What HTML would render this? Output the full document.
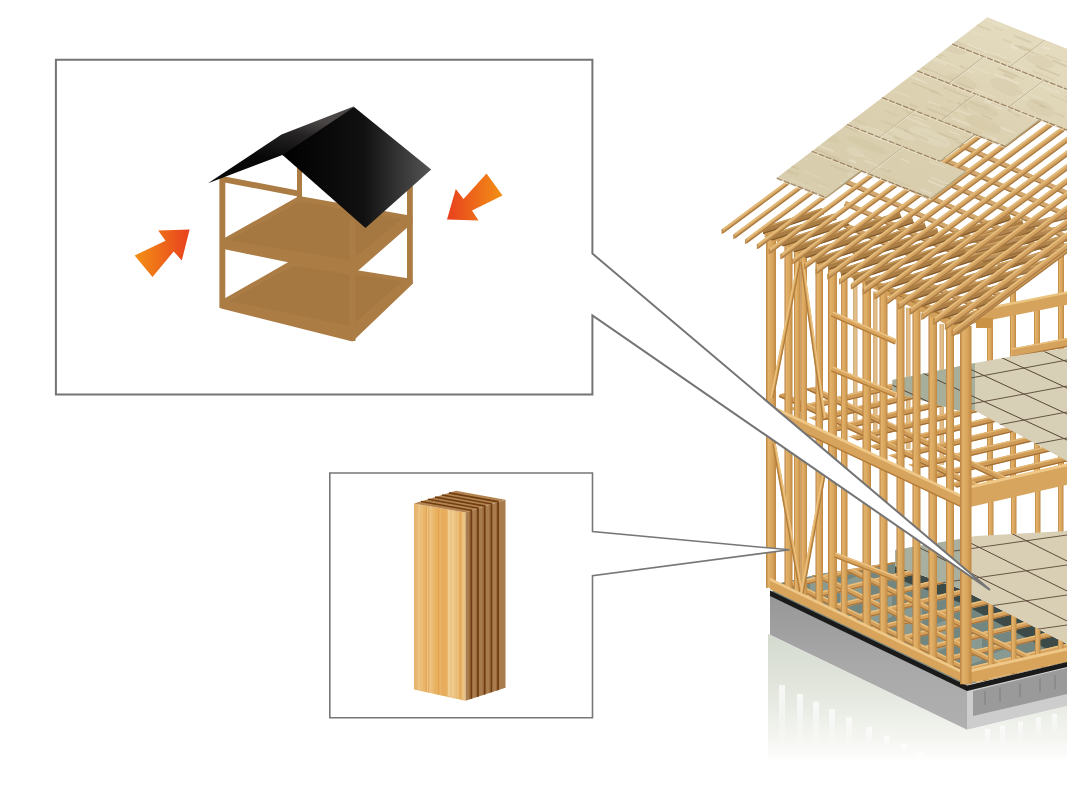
<!DOCTYPE html>
<html><head><meta charset="utf-8">
<style>
html,body{margin:0;padding:0;background:#fff;width:1067px;height:800px;overflow:hidden;font-family:"Liberation Sans",sans-serif;}
svg{position:absolute;left:0;top:0;display:block}
</style></head><body>
<svg width="1067" height="800" viewBox="0 0 1067 800">
<defs>
  <linearGradient id="roofR" x1="282" y1="0" x2="431" y2="0" gradientUnits="userSpaceOnUse">
    <stop offset="0" stop-color="#000"/><stop offset="0.55" stop-color="#111"/><stop offset="1" stop-color="#555"/>
  </linearGradient>
  <linearGradient id="roofL" x1="300" y1="118" x2="292" y2="162" gradientUnits="userSpaceOnUse">
    <stop offset="0" stop-color="#4a4646"/><stop offset="0.35" stop-color="#262424"/><stop offset="1" stop-color="#080808"/>
  </linearGradient>
  <linearGradient id="arrL" x1="135" y1="0" x2="190" y2="0" gradientUnits="userSpaceOnUse">
    <stop offset="0" stop-color="#f39015"/><stop offset="1" stop-color="#e8401e"/>
  </linearGradient>
  <linearGradient id="arrR" x1="502" y1="0" x2="447" y2="0" gradientUnits="userSpaceOnUse">
    <stop offset="0" stop-color="#f39015"/><stop offset="1" stop-color="#e8401e"/>
  </linearGradient>
</defs>

<!-- ===== BIG HOUSE (right) ===== -->
<g id="house">
<defs>
<linearGradient id="reflG" x1="0" y1="634" x2="0" y2="763" gradientUnits="userSpaceOnUse">
<stop offset="0" stop-color="#d5dacf"/><stop offset="0.45" stop-color="#e3e7de"/><stop offset="0.8" stop-color="#f4f5f1"/><stop offset="1" stop-color="#ffffff"/></linearGradient>
<linearGradient id="studG" x1="0" y1="0" x2="1" y2="0">
<stop offset="0" stop-color="#b98040"/><stop offset="0.25" stop-color="#e2b26a"/><stop offset="0.65" stop-color="#d8a45c"/><stop offset="1" stop-color="#be8842"/></linearGradient>
<linearGradient id="studF" x1="0" y1="0" x2="1" y2="0">
<stop offset="0" stop-color="#c99a5c"/><stop offset="0.5" stop-color="#e0b878"/><stop offset="1" stop-color="#cc9d5e"/></linearGradient>
<linearGradient id="fndL" x1="0" y1="0" x2="0" y2="1">
<stop offset="0" stop-color="#979797"/><stop offset="0.5" stop-color="#a8a8a8"/><stop offset="1" stop-color="#b0b0b0"/></linearGradient>
<linearGradient id="panelG" x1="987" y1="17" x2="900" y2="200" gradientUnits="userSpaceOnUse">
<stop offset="0" stop-color="#e4dbbf"/><stop offset="0.5" stop-color="#dcd1b1"/><stop offset="1" stop-color="#d8cdac"/></linearGradient>
</defs>
<linearGradient id="stripeG" x1="0" y1="0" x2="0" y2="1"><stop offset="0" stop-color="#ffffff" stop-opacity="0.75"/><stop offset="1" stop-color="#ffffff" stop-opacity="0"/></linearGradient>
<polygon points="768.0,634.0 967.0,730.0 1067.0,706.0 1067.0,765.0 768.0,765.0" fill="url(#reflG)" />
<rect x="779.0" y="685.1" width="6" height="62.9" fill="url(#stripeG)"/>
<rect x="797.0" y="693.8" width="6" height="54.2" fill="url(#stripeG)"/>
<rect x="813.0" y="701.5" width="6" height="46.5" fill="url(#stripeG)"/>
<rect x="829.0" y="709.2" width="6" height="38.8" fill="url(#stripeG)"/>
<rect x="846.0" y="717.4" width="6" height="30.6" fill="url(#stripeG)"/>
<rect x="866.0" y="727.1" width="6" height="20.9" fill="url(#stripeG)"/>
<rect x="884.0" y="735.7" width="6" height="12.3" fill="url(#stripeG)"/>
<rect x="901.0" y="743.9" width="6" height="10.0" fill="url(#stripeG)"/>
<rect x="918.0" y="752.1" width="6" height="10.0" fill="url(#stripeG)"/>
<rect x="934.0" y="759.8" width="6" height="10.0" fill="url(#stripeG)"/>
<rect x="951.0" y="768.0" width="6" height="10.0" fill="url(#stripeG)"/>
<rect x="985.0" y="729.0" width="5" height="22" fill="url(#stripeG)"/>
<rect x="1000.0" y="725.6" width="5" height="22" fill="url(#stripeG)"/>
<rect x="1018.0" y="721.6" width="5" height="22" fill="url(#stripeG)"/>
<rect x="1036.0" y="717.5" width="5" height="22" fill="url(#stripeG)"/>
<rect x="1052.0" y="713.9" width="5" height="22" fill="url(#stripeG)"/>
<clipPath id="crawlClip"><polygon points="772.0,592.0 966.0,685.0 1067.0,662.0 1067.0,644.0 961.0,589.0 895.0,566.0 895.0,562.0 820.0,574.0 776.0,584.0"/></clipPath>
<polygon points="772.0,592.0 966.0,685.0 1067.0,662.0 1067.0,644.0 961.0,589.0 895.0,566.0 895.0,562.0 820.0,574.0 776.0,584.0" fill="#73867f" />
<g clip-path="url(#crawlClip)">
<polygon points="895.0,566.0 961.0,589.0 1067.0,644.0 1067.0,660.0 961.0,603.0 895.0,578.0" fill="#33413e" opacity="0.85"/>
<polygon points="780.0,553.6 802.0,545.6 802.0,573.6 780.0,581.6" fill="#93a29a" opacity="0.7"/>
<polygon points="810.0,568.1 832.0,560.1 832.0,588.1 810.0,596.1" fill="#93a29a" opacity="0.7"/>
<polygon points="840.0,582.5 862.0,574.5 862.0,602.5 840.0,610.5" fill="#93a29a" opacity="0.7"/>
<polygon points="870.0,597.0 892.0,589.0 892.0,617.0 870.0,625.0" fill="#93a29a" opacity="0.7"/>
<polygon points="900.0,611.5 922.0,603.5 922.0,631.5 900.0,639.5" fill="#93a29a" opacity="0.7"/>
<polygon points="930.0,625.9 952.0,617.9 952.0,645.9 930.0,653.9" fill="#93a29a" opacity="0.7"/>
<polygon points="960.0,640.4 982.0,632.4 982.0,660.4 960.0,668.4" fill="#93a29a" opacity="0.7"/>
<polygon points="990.0,654.8 1012.0,646.8 1012.0,674.8 990.0,682.8" fill="#93a29a" opacity="0.7"/>
<polygon points="1020.0,669.3 1042.0,661.3 1042.0,689.3 1020.0,697.3" fill="#93a29a" opacity="0.7"/>
<polygon points="1050.0,683.8 1072.0,675.8 1072.0,703.8 1050.0,711.8" fill="#93a29a" opacity="0.7"/>
<line x1="778.0" y1="588.7" x2="1078.0" y2="516.7" stroke="#d6a35e" stroke-width="5.4" />
<line x1="777.5" y1="586.7" x2="1077.5" y2="514.7" stroke="#ebc07e" stroke-width="1.4" />
<line x1="778.5" y1="590.6" x2="1078.5" y2="518.6" stroke="#a8733a" stroke-width="1.2" />
<line x1="800.0" y1="599.3" x2="1100.0" y2="527.3" stroke="#d6a35e" stroke-width="5.4" />
<line x1="799.5" y1="597.3" x2="1099.5" y2="525.3" stroke="#ebc07e" stroke-width="1.4" />
<line x1="800.5" y1="601.2" x2="1100.5" y2="529.2" stroke="#a8733a" stroke-width="1.2" />
<line x1="822.0" y1="609.9" x2="1122.0" y2="537.9" stroke="#d6a35e" stroke-width="5.4" />
<line x1="821.5" y1="607.9" x2="1121.5" y2="535.9" stroke="#ebc07e" stroke-width="1.4" />
<line x1="822.5" y1="611.8" x2="1122.5" y2="539.8" stroke="#a8733a" stroke-width="1.2" />
<line x1="844.0" y1="620.5" x2="1144.0" y2="548.5" stroke="#d6a35e" stroke-width="5.4" />
<line x1="843.5" y1="618.5" x2="1143.5" y2="546.5" stroke="#ebc07e" stroke-width="1.4" />
<line x1="844.5" y1="622.4" x2="1144.5" y2="550.4" stroke="#a8733a" stroke-width="1.2" />
<line x1="866.0" y1="631.1" x2="1166.0" y2="559.1" stroke="#d6a35e" stroke-width="5.4" />
<line x1="865.5" y1="629.1" x2="1165.5" y2="557.1" stroke="#ebc07e" stroke-width="1.4" />
<line x1="866.5" y1="633.0" x2="1166.5" y2="561.0" stroke="#a8733a" stroke-width="1.2" />
<line x1="888.0" y1="641.7" x2="1188.0" y2="569.7" stroke="#d6a35e" stroke-width="5.4" />
<line x1="887.5" y1="639.7" x2="1187.5" y2="567.7" stroke="#ebc07e" stroke-width="1.4" />
<line x1="888.5" y1="643.6" x2="1188.5" y2="571.6" stroke="#a8733a" stroke-width="1.2" />
<line x1="910.0" y1="652.3" x2="1210.0" y2="580.3" stroke="#d6a35e" stroke-width="5.4" />
<line x1="909.5" y1="650.3" x2="1209.5" y2="578.3" stroke="#ebc07e" stroke-width="1.4" />
<line x1="910.5" y1="654.2" x2="1210.5" y2="582.2" stroke="#a8733a" stroke-width="1.2" />
<line x1="932.0" y1="662.9" x2="1232.0" y2="590.9" stroke="#d6a35e" stroke-width="5.4" />
<line x1="931.5" y1="660.9" x2="1231.5" y2="588.9" stroke="#ebc07e" stroke-width="1.4" />
<line x1="932.5" y1="664.8" x2="1232.5" y2="592.8" stroke="#a8733a" stroke-width="1.2" />
<line x1="954.0" y1="673.5" x2="1254.0" y2="601.5" stroke="#d6a35e" stroke-width="5.4" />
<line x1="953.5" y1="671.5" x2="1253.5" y2="599.5" stroke="#ebc07e" stroke-width="1.4" />
<line x1="954.5" y1="675.4" x2="1254.5" y2="603.4" stroke="#a8733a" stroke-width="1.2" />
<line x1="976.0" y1="684.1" x2="1276.0" y2="612.1" stroke="#d6a35e" stroke-width="5.4" />
<line x1="975.5" y1="682.1" x2="1275.5" y2="610.1" stroke="#ebc07e" stroke-width="1.4" />
<line x1="976.5" y1="686.0" x2="1276.5" y2="614.0" stroke="#a8733a" stroke-width="1.2" />
<line x1="998.0" y1="694.7" x2="1298.0" y2="622.7" stroke="#d6a35e" stroke-width="5.4" />
<line x1="997.5" y1="692.8" x2="1297.5" y2="620.8" stroke="#ebc07e" stroke-width="1.4" />
<line x1="998.5" y1="696.6" x2="1298.5" y2="624.6" stroke="#a8733a" stroke-width="1.2" />
<line x1="1020.0" y1="705.3" x2="1320.0" y2="633.3" stroke="#d6a35e" stroke-width="5.4" />
<line x1="1019.5" y1="703.4" x2="1319.5" y2="631.4" stroke="#ebc07e" stroke-width="1.4" />
<line x1="1020.5" y1="707.2" x2="1320.5" y2="635.2" stroke="#a8733a" stroke-width="1.2" />
<line x1="1042.0" y1="715.9" x2="1342.0" y2="643.9" stroke="#d6a35e" stroke-width="5.4" />
<line x1="1041.5" y1="714.0" x2="1341.5" y2="642.0" stroke="#ebc07e" stroke-width="1.4" />
<line x1="1042.5" y1="717.8" x2="1342.5" y2="645.8" stroke="#a8733a" stroke-width="1.2" />
<line x1="780.0" y1="536.0" x2="1067.0" y2="676.6" stroke="#d3a05b" stroke-width="5.4" />
<line x1="780.9" y1="534.2" x2="1067.9" y2="674.8" stroke="#e9bd7a" stroke-width="1.4" />
<line x1="779.1" y1="537.8" x2="1066.1" y2="678.4" stroke="#a8733a" stroke-width="1.2" />
<line x1="780.0" y1="557.0" x2="1067.0" y2="697.6" stroke="#d3a05b" stroke-width="5.4" />
<line x1="780.9" y1="555.2" x2="1067.9" y2="695.8" stroke="#e9bd7a" stroke-width="1.4" />
<line x1="779.1" y1="558.8" x2="1066.1" y2="699.4" stroke="#a8733a" stroke-width="1.2" />
<line x1="780.0" y1="578.0" x2="1067.0" y2="718.6" stroke="#d3a05b" stroke-width="5.4" />
<line x1="780.9" y1="576.2" x2="1067.9" y2="716.8" stroke="#e9bd7a" stroke-width="1.4" />
<line x1="779.1" y1="579.8" x2="1066.1" y2="720.4" stroke="#a8733a" stroke-width="1.2" />
<line x1="780.0" y1="599.0" x2="1067.0" y2="739.6" stroke="#d3a05b" stroke-width="5.4" />
<line x1="780.9" y1="597.2" x2="1067.9" y2="737.8" stroke="#e9bd7a" stroke-width="1.4" />
<line x1="779.1" y1="600.8" x2="1066.1" y2="741.4" stroke="#a8733a" stroke-width="1.2" />
<line x1="780.0" y1="620.0" x2="1067.0" y2="760.6" stroke="#d3a05b" stroke-width="5.4" />
<line x1="780.9" y1="618.2" x2="1067.9" y2="758.8" stroke="#e9bd7a" stroke-width="1.4" />
<line x1="779.1" y1="621.8" x2="1066.1" y2="762.4" stroke="#a8733a" stroke-width="1.2" />
</g>
<rect x="988.0" y="498.9" width="5.5" height="171.4" fill="url(#studG)" />
<rect x="1011.0" y="493.6" width="5.5" height="171.5" fill="url(#studG)" />
<rect x="1035.0" y="488.1" width="5.5" height="171.6" fill="url(#studG)" />
<rect x="1058.0" y="482.8" width="5.5" height="171.7" fill="url(#studG)" />
<rect x="987.0" y="318.8" width="6" height="165.4" fill="url(#studG)" />
<rect x="1010.0" y="314.2" width="6" height="164.7" fill="url(#studG)" />
<rect x="1034.0" y="309.4" width="6" height="164.0" fill="url(#studG)" />
<rect x="1058.0" y="304.6" width="6" height="163.2" fill="url(#studG)" />
<rect x="1010.0" y="288.0" width="6" height="18.0" fill="url(#studG)" />
<rect x="1058.0" y="236.0" width="6" height="60.0" fill="url(#studG)" />
<rect x="853.0" y="281.6" width="4.5" height="142.6" fill="url(#studF)" opacity="0.85"/>
<rect x="873.0" y="291.4" width="4.5" height="142.2" fill="url(#studF)" opacity="0.85"/>
<rect x="906.0" y="307.6" width="4.5" height="141.5" fill="url(#studF)" opacity="0.85"/>
<rect x="939.5" y="324.0" width="4.5" height="140.8" fill="url(#studF)" opacity="0.85"/>
<clipPath id="deck1Clip"><polygon points="895.0,550.0 976.0,536.0 1067.0,531.0 1067.0,644.0 961.0,589.0 895.0,566.0"/></clipPath>
<polygon points="895.0,550.0 976.0,536.0 1067.0,531.0 1067.0,644.0 961.0,589.0 895.0,566.0" fill="#d9cfb5" />
<polygon points="895.0,550.0 961.0,539.0 961.0,589.0 895.0,566.0" fill="#a9b0a0" />
<g clip-path="url(#deck1Clip)">
<line x1="900.0" y1="418.0" x2="1067.0" y2="501.0" stroke="#5a4838" stroke-width="1.0" />
<line x1="900.0" y1="448.0" x2="1067.0" y2="531.0" stroke="#5a4838" stroke-width="1.0" />
<line x1="900.0" y1="478.0" x2="1067.0" y2="561.0" stroke="#5a4838" stroke-width="1.0" />
<line x1="900.0" y1="508.0" x2="1067.0" y2="591.0" stroke="#5a4838" stroke-width="1.0" />
<line x1="900.0" y1="538.0" x2="1067.0" y2="621.0" stroke="#5a4838" stroke-width="1.0" />
<line x1="900.0" y1="568.0" x2="1067.0" y2="651.0" stroke="#5a4838" stroke-width="1.0" />
<line x1="900.0" y1="598.0" x2="1067.0" y2="681.0" stroke="#5a4838" stroke-width="1.0" />
<line x1="900.0" y1="628.0" x2="1067.0" y2="711.0" stroke="#5a4838" stroke-width="1.0" />
<line x1="900.0" y1="658.0" x2="1067.0" y2="741.0" stroke="#5a4838" stroke-width="1.0" />
<line x1="940.0" y1="553.0" x2="1067.0" y2="535.0" stroke="#5a4838" stroke-width="0.9" />
<line x1="940.0" y1="583.0" x2="1067.0" y2="565.0" stroke="#5a4838" stroke-width="0.9" />
<line x1="940.0" y1="613.0" x2="1067.0" y2="595.0" stroke="#5a4838" stroke-width="0.9" />
<line x1="940.0" y1="643.0" x2="1067.0" y2="625.0" stroke="#5a4838" stroke-width="0.9" />
<line x1="940.0" y1="673.0" x2="1067.0" y2="655.0" stroke="#5a4838" stroke-width="0.9" />
<line x1="940.0" y1="703.0" x2="1067.0" y2="685.0" stroke="#5a4838" stroke-width="0.9" />
</g>
<clipPath id="j2Clip"><polygon points="776.0,395.0 892.0,370.0 1067.0,340.0 1067.0,470.0 966.0,492.0 776.0,402.0"/></clipPath>
<g clip-path="url(#j2Clip)">
<line x1="785.0" y1="412.2" x2="975.0" y2="367.2" stroke="#cf9c58" stroke-width="6" />
<line x1="784.5" y1="410.0" x2="974.5" y2="365.0" stroke="#e6ba78" stroke-width="1.4" />
<line x1="785.5" y1="414.5" x2="975.5" y2="369.5" stroke="#a06c34" stroke-width="1.2" />
<line x1="805.0" y1="421.6" x2="995.0" y2="376.6" stroke="#cf9c58" stroke-width="6" />
<line x1="804.5" y1="419.4" x2="994.5" y2="374.4" stroke="#e6ba78" stroke-width="1.4" />
<line x1="805.5" y1="423.9" x2="995.5" y2="378.9" stroke="#a06c34" stroke-width="1.2" />
<line x1="825.0" y1="431.1" x2="1015.0" y2="386.1" stroke="#cf9c58" stroke-width="6" />
<line x1="824.5" y1="428.8" x2="1014.5" y2="383.8" stroke="#e6ba78" stroke-width="1.4" />
<line x1="825.5" y1="433.3" x2="1015.5" y2="388.3" stroke="#a06c34" stroke-width="1.2" />
<line x1="845.0" y1="440.4" x2="1035.0" y2="395.4" stroke="#cf9c58" stroke-width="6" />
<line x1="844.5" y1="438.2" x2="1034.5" y2="393.2" stroke="#e6ba78" stroke-width="1.4" />
<line x1="845.5" y1="442.7" x2="1035.5" y2="397.7" stroke="#a06c34" stroke-width="1.2" />
<line x1="865.0" y1="449.8" x2="1055.0" y2="404.8" stroke="#cf9c58" stroke-width="6" />
<line x1="864.5" y1="447.6" x2="1054.5" y2="402.6" stroke="#e6ba78" stroke-width="1.4" />
<line x1="865.5" y1="452.1" x2="1055.5" y2="407.1" stroke="#a06c34" stroke-width="1.2" />
<line x1="885.0" y1="459.2" x2="1075.0" y2="414.2" stroke="#cf9c58" stroke-width="6" />
<line x1="884.5" y1="457.0" x2="1074.5" y2="412.0" stroke="#e6ba78" stroke-width="1.4" />
<line x1="885.5" y1="461.5" x2="1075.5" y2="416.5" stroke="#a06c34" stroke-width="1.2" />
<line x1="905.0" y1="468.6" x2="1095.0" y2="423.6" stroke="#cf9c58" stroke-width="6" />
<line x1="904.5" y1="466.4" x2="1094.5" y2="421.4" stroke="#e6ba78" stroke-width="1.4" />
<line x1="905.5" y1="470.9" x2="1095.5" y2="425.9" stroke="#a06c34" stroke-width="1.2" />
<line x1="925.0" y1="478.0" x2="1115.0" y2="433.0" stroke="#cf9c58" stroke-width="6" />
<line x1="924.5" y1="475.8" x2="1114.5" y2="430.8" stroke="#e6ba78" stroke-width="1.4" />
<line x1="925.5" y1="480.3" x2="1115.5" y2="435.3" stroke="#a06c34" stroke-width="1.2" />
<line x1="945.0" y1="487.4" x2="1135.0" y2="442.4" stroke="#cf9c58" stroke-width="6" />
<line x1="944.5" y1="485.2" x2="1134.5" y2="440.2" stroke="#e6ba78" stroke-width="1.4" />
<line x1="945.5" y1="489.7" x2="1135.5" y2="444.7" stroke="#a06c34" stroke-width="1.2" />
<line x1="965.0" y1="496.8" x2="1155.0" y2="451.8" stroke="#cf9c58" stroke-width="6" />
<line x1="964.5" y1="494.6" x2="1154.5" y2="449.6" stroke="#e6ba78" stroke-width="1.4" />
<line x1="965.5" y1="499.1" x2="1155.5" y2="454.1" stroke="#a06c34" stroke-width="1.2" />
<line x1="985.0" y1="506.2" x2="1175.0" y2="461.2" stroke="#cf9c58" stroke-width="6" />
<line x1="984.5" y1="504.0" x2="1174.5" y2="459.0" stroke="#e6ba78" stroke-width="1.4" />
<line x1="985.5" y1="508.5" x2="1175.5" y2="463.5" stroke="#a06c34" stroke-width="1.2" />
<line x1="1005.0" y1="515.6" x2="1195.0" y2="470.6" stroke="#cf9c58" stroke-width="6" />
<line x1="1004.5" y1="513.4" x2="1194.5" y2="468.4" stroke="#e6ba78" stroke-width="1.4" />
<line x1="1005.5" y1="517.9" x2="1195.5" y2="472.9" stroke="#a06c34" stroke-width="1.2" />
<line x1="780.0" y1="374.0" x2="1067.0" y2="508.9" stroke="#d09e5a" stroke-width="6" />
<line x1="781.0" y1="371.9" x2="1068.0" y2="506.8" stroke="#e8bc7a" stroke-width="1.4" />
<line x1="779.0" y1="376.1" x2="1066.0" y2="511.0" stroke="#a06c34" stroke-width="1.2" />
<line x1="780.0" y1="394.0" x2="1067.0" y2="528.9" stroke="#d09e5a" stroke-width="6" />
<line x1="781.0" y1="391.9" x2="1068.0" y2="526.8" stroke="#e8bc7a" stroke-width="1.4" />
<line x1="779.0" y1="396.1" x2="1066.0" y2="531.0" stroke="#a06c34" stroke-width="1.2" />
<line x1="780.0" y1="414.0" x2="1067.0" y2="548.9" stroke="#d09e5a" stroke-width="6" />
<line x1="781.0" y1="411.9" x2="1068.0" y2="546.8" stroke="#e8bc7a" stroke-width="1.4" />
<line x1="779.0" y1="416.1" x2="1066.0" y2="551.0" stroke="#a06c34" stroke-width="1.2" />
<line x1="780.0" y1="434.0" x2="1067.0" y2="568.9" stroke="#d09e5a" stroke-width="6" />
<line x1="781.0" y1="431.9" x2="1068.0" y2="566.8" stroke="#e8bc7a" stroke-width="1.4" />
<line x1="779.0" y1="436.1" x2="1066.0" y2="571.0" stroke="#a06c34" stroke-width="1.2" />
<line x1="780.0" y1="454.0" x2="1067.0" y2="588.9" stroke="#d09e5a" stroke-width="6" />
<line x1="781.0" y1="451.9" x2="1068.0" y2="586.8" stroke="#e8bc7a" stroke-width="1.4" />
<line x1="779.0" y1="456.1" x2="1066.0" y2="591.0" stroke="#a06c34" stroke-width="1.2" />
<line x1="780.0" y1="474.0" x2="1067.0" y2="608.9" stroke="#d09e5a" stroke-width="6" />
<line x1="781.0" y1="471.9" x2="1068.0" y2="606.8" stroke="#e8bc7a" stroke-width="1.4" />
<line x1="779.0" y1="476.1" x2="1066.0" y2="611.0" stroke="#a06c34" stroke-width="1.2" />
</g>
<line x1="1012.0" y1="353.0" x2="1070.0" y2="342.0" stroke="#d5a35e" stroke-width="9" />
<line x1="1011.3" y1="349.3" x2="1069.3" y2="338.3" stroke="#eac07e" stroke-width="1.4" />
<line x1="1012.7" y1="356.7" x2="1070.7" y2="345.7" stroke="#a8733a" stroke-width="1.2" />
<clipPath id="deck2Clip"><polygon points="892.5,380.0 975.0,363.0 1020.0,355.0 1067.0,348.0 1067.0,461.0 972.0,409.0 958.0,410.6 892.5,392.0"/></clipPath>
<polygon points="892.5,380.0 975.0,363.0 1020.0,355.0 1067.0,348.0 1067.0,461.0 972.0,409.0 958.0,410.6 892.5,392.0" fill="#d8cfb7" />
<polygon points="892.5,380.0 975.0,363.0 975.0,410.0 958.0,410.6 892.5,392.0" fill="#a7ae9a" />
<g clip-path="url(#deck2Clip)">
<line x1="890.0" y1="254.0" x2="1067.0" y2="336.0" stroke="#574636" stroke-width="1.0" />
<line x1="890.0" y1="280.0" x2="1067.0" y2="362.0" stroke="#574636" stroke-width="1.0" />
<line x1="890.0" y1="306.0" x2="1067.0" y2="388.0" stroke="#574636" stroke-width="1.0" />
<line x1="890.0" y1="332.0" x2="1067.0" y2="414.0" stroke="#574636" stroke-width="1.0" />
<line x1="890.0" y1="358.0" x2="1067.0" y2="440.0" stroke="#574636" stroke-width="1.0" />
<line x1="890.0" y1="384.0" x2="1067.0" y2="466.0" stroke="#574636" stroke-width="1.0" />
<line x1="890.0" y1="410.0" x2="1067.0" y2="492.0" stroke="#574636" stroke-width="1.0" />
<line x1="890.0" y1="436.0" x2="1067.0" y2="518.0" stroke="#574636" stroke-width="1.0" />
<line x1="890.0" y1="462.0" x2="1067.0" y2="544.0" stroke="#574636" stroke-width="1.0" />
<line x1="960.0" y1="380.0" x2="1067.0" y2="360.0" stroke="#574636" stroke-width="0.9" />
<line x1="960.0" y1="406.0" x2="1067.0" y2="386.0" stroke="#574636" stroke-width="0.9" />
<line x1="960.0" y1="432.0" x2="1067.0" y2="412.0" stroke="#574636" stroke-width="0.9" />
<line x1="960.0" y1="458.0" x2="1067.0" y2="438.0" stroke="#574636" stroke-width="0.9" />
<line x1="960.0" y1="484.0" x2="1067.0" y2="464.0" stroke="#574636" stroke-width="0.9" />
<line x1="960.0" y1="510.0" x2="1067.0" y2="490.0" stroke="#574636" stroke-width="0.9" />
</g>
<polygon points="770.0,594.5 967.0,689.5 967.0,729.7 770.0,634.8" fill="url(#fndL)" />
<polygon points="967.0,689.5 1067.0,664.0 1067.0,706.0 967.0,729.7" fill="#cdcdcd" />
<polygon points="973.0,691.0 1067.0,668.0 1067.0,694.0 973.0,716.0" fill="#9a9a9a" />
<line x1="985.0" y1="691.0" x2="985.0" y2="705.0" stroke="#777" stroke-width="0.8" />
<line x1="1000.0" y1="687.6" x2="1000.0" y2="701.6" stroke="#777" stroke-width="0.8" />
<line x1="1020.0" y1="683.1" x2="1020.0" y2="697.1" stroke="#777" stroke-width="0.8" />
<line x1="1040.0" y1="678.6" x2="1040.0" y2="692.6" stroke="#777" stroke-width="0.8" />
<line x1="1055.0" y1="675.2" x2="1055.0" y2="689.2" stroke="#777" stroke-width="0.8" />
<polygon points="770.0,590.5 967.0,685.5 967.0,691.0 770.0,596.0" fill="#1a1a1a" />
<polygon points="967.0,685.5 1067.0,662.0 1067.0,667.0 967.0,691.0" fill="#1a1a1a" />
<rect x="766.0" y="230.0" width="10" height="357.9" fill="url(#studG)" />
<rect x="784.5" y="239.1" width="8" height="357.7" fill="url(#studG)" />
<rect x="794.0" y="243.7" width="6.5" height="357.6" fill="url(#studG)" />
<rect x="800.5" y="246.9" width="6.5" height="357.6" fill="url(#studG)" />
<rect x="815.5" y="254.3" width="7.5" height="357.5" fill="url(#studG)" />
<rect x="828.0" y="260.4" width="9" height="357.4" fill="url(#studG)" />
<rect x="841.0" y="266.8" width="6.5" height="357.3" fill="url(#studG)" />
<rect x="862.5" y="277.3" width="8.5" height="357.1" fill="url(#studG)" />
<rect x="879.5" y="285.6" width="8" height="356.9" fill="url(#studG)" />
<rect x="896.5" y="294.0" width="8" height="356.8" fill="url(#studG)" />
<rect x="912.5" y="301.8" width="8" height="356.7" fill="url(#studG)" />
<rect x="928.5" y="309.6" width="8.5" height="356.6" fill="url(#studG)" />
<rect x="946.0" y="318.2" width="8" height="356.4" fill="url(#studG)" />
<line x1="802.0" y1="262.0" x2="824.0" y2="418.0" stroke="#d8a862" stroke-width="3.6" />
<line x1="803.1" y1="261.8" x2="825.1" y2="417.8" stroke="#ecc27e" stroke-width="1.4" />
<line x1="800.9" y1="262.2" x2="822.9" y2="418.2" stroke="#b07a38" stroke-width="1.2" />
<line x1="799.0" y1="262.0" x2="772.0" y2="398.0" stroke="#d8a862" stroke-width="3.6" />
<line x1="797.9" y1="261.8" x2="770.9" y2="397.8" stroke="#ecc27e" stroke-width="1.4" />
<line x1="800.1" y1="262.2" x2="773.1" y2="398.2" stroke="#b07a38" stroke-width="1.2" />
<line x1="774.0" y1="444.0" x2="801.0" y2="592.0" stroke="#d8a862" stroke-width="3.6" />
<line x1="775.1" y1="443.8" x2="802.1" y2="591.8" stroke="#ecc27e" stroke-width="1.4" />
<line x1="772.9" y1="444.2" x2="799.9" y2="592.2" stroke="#b07a38" stroke-width="1.2" />
<line x1="824.0" y1="474.0" x2="802.0" y2="594.0" stroke="#d8a862" stroke-width="3.6" />
<line x1="822.9" y1="473.8" x2="800.9" y2="593.8" stroke="#ecc27e" stroke-width="1.4" />
<line x1="825.1" y1="474.2" x2="803.1" y2="594.2" stroke="#b07a38" stroke-width="1.2" />
<line x1="832.0" y1="314.0" x2="896.0" y2="342.0" stroke="#d9a660" stroke-width="5.5" />
<line x1="832.8" y1="312.1" x2="896.8" y2="340.1" stroke="#efc686" stroke-width="1.4" />
<line x1="831.2" y1="315.9" x2="895.2" y2="343.9" stroke="#b37b37" stroke-width="1.2" />
<line x1="832.0" y1="369.0" x2="896.0" y2="395.0" stroke="#d9a660" stroke-width="5.5" />
<line x1="832.8" y1="367.1" x2="896.8" y2="393.1" stroke="#efc686" stroke-width="1.4" />
<line x1="831.2" y1="370.9" x2="895.2" y2="396.9" stroke="#b37b37" stroke-width="1.2" />
<line x1="835.0" y1="555.0" x2="897.0" y2="579.0" stroke="#d9a660" stroke-width="5.5" />
<line x1="835.7" y1="553.1" x2="897.7" y2="577.1" stroke="#efc686" stroke-width="1.4" />
<line x1="834.3" y1="556.9" x2="896.3" y2="580.9" stroke="#b37b37" stroke-width="1.2" />
<polygon points="770.0,579.8 966.0,674.3 966.0,683.8 770.0,589.3" fill="#d8a45c" />
<polygon points="770.0,577.8 966.0,672.3 966.0,675.3 770.0,580.8" fill="#efc888" />
<polygon points="772.0,408.1 966.0,499.3 966.0,509.3 772.0,418.1" fill="#d7a45d" />
<polygon points="772.0,405.6 966.0,496.8 966.0,499.8 772.0,408.6" fill="#efc888" />
<polygon points="772.0,417.1 966.0,508.3 966.0,509.8 772.0,418.6" fill="#b27a38" />
<polygon points="764.0,226.0 966.0,325.0 966.0,334.0 764.0,235.0" fill="#d3a05a" />
<polygon points="966.0,489.0 1067.0,465.8 1067.0,484.8 966.0,508.0" fill="#d8a55e" />
<polygon points="966.0,486.5 1067.0,463.3 1067.0,466.3 966.0,489.5" fill="#efc888" />
<polygon points="966.0,672.3 1067.0,649.5 1067.0,661.0 966.0,683.8" fill="#d8a45c" />
<polygon points="966.0,670.3 1067.0,647.5 1067.0,650.5 966.0,673.3" fill="#efc888" />
<polygon points="972.0,311.8 1067.0,292.8 1067.0,304.8 972.0,323.8" fill="#d5a35c" />
<polygon points="972.0,310.3 1067.0,291.3 1067.0,293.8 972.0,312.8" fill="#ecc482" />
<polygon points="976.0,318.0 993.0,318.0 993.0,328.0 976.0,328.0" fill="#c99244" />
<rect x="960.0" y="326.0" width="11.5" height="358.3" fill="url(#studG)" />
<clipPath id="roofClip"><polygon points="763,236 956,334 1067,246 1067,50 987.3,19 776.6,180 763,205"/></clipPath>
<g clip-path="url(#roofClip)">
<line x1="845.0" y1="291.2" x2="1070.0" y2="392.5" stroke="#c08c48" stroke-width="5.0" opacity="0.75"/>
<line x1="845.7" y1="289.6" x2="1070.7" y2="390.9" stroke="#d8a862" stroke-width="1.4" opacity="0.75"/>
<line x1="844.3" y1="292.9" x2="1069.3" y2="394.1" stroke="#9c6a30" stroke-width="1.2" opacity="0.75"/>
<line x1="845.0" y1="269.2" x2="1070.0" y2="370.5" stroke="#c08c48" stroke-width="5.0" opacity="0.75"/>
<line x1="845.7" y1="267.6" x2="1070.7" y2="368.9" stroke="#d8a862" stroke-width="1.4" opacity="0.75"/>
<line x1="844.3" y1="270.9" x2="1069.3" y2="372.1" stroke="#9c6a30" stroke-width="1.2" opacity="0.75"/>
<line x1="845.0" y1="247.2" x2="1070.0" y2="348.5" stroke="#c08c48" stroke-width="5.0" opacity="0.75"/>
<line x1="845.7" y1="245.6" x2="1070.7" y2="346.9" stroke="#d8a862" stroke-width="1.4" opacity="0.75"/>
<line x1="844.3" y1="248.9" x2="1069.3" y2="350.1" stroke="#9c6a30" stroke-width="1.2" opacity="0.75"/>
<line x1="845.0" y1="225.2" x2="1070.0" y2="326.5" stroke="#c08c48" stroke-width="5.0" opacity="0.75"/>
<line x1="845.7" y1="223.6" x2="1070.7" y2="324.9" stroke="#d8a862" stroke-width="1.4" opacity="0.75"/>
<line x1="844.3" y1="226.9" x2="1069.3" y2="328.1" stroke="#9c6a30" stroke-width="1.2" opacity="0.75"/>
<line x1="845.0" y1="203.2" x2="1070.0" y2="304.5" stroke="#c08c48" stroke-width="5.0" opacity="0.75"/>
<line x1="845.7" y1="201.6" x2="1070.7" y2="302.9" stroke="#d8a862" stroke-width="1.4" opacity="0.75"/>
<line x1="844.3" y1="204.9" x2="1069.3" y2="306.1" stroke="#9c6a30" stroke-width="1.2" opacity="0.75"/>
<line x1="845.0" y1="181.2" x2="1070.0" y2="282.5" stroke="#c08c48" stroke-width="5.0" opacity="0.75"/>
<line x1="845.7" y1="179.6" x2="1070.7" y2="280.9" stroke="#d8a862" stroke-width="1.4" opacity="0.75"/>
<line x1="844.3" y1="182.9" x2="1069.3" y2="284.1" stroke="#9c6a30" stroke-width="1.2" opacity="0.75"/>
<line x1="845.0" y1="159.2" x2="1070.0" y2="260.5" stroke="#c08c48" stroke-width="5.0" opacity="0.75"/>
<line x1="845.7" y1="157.6" x2="1070.7" y2="258.9" stroke="#d8a862" stroke-width="1.4" opacity="0.75"/>
<line x1="844.3" y1="160.9" x2="1069.3" y2="262.1" stroke="#9c6a30" stroke-width="1.2" opacity="0.75"/>
<line x1="845.0" y1="137.2" x2="1070.0" y2="238.5" stroke="#c08c48" stroke-width="5.0" opacity="0.75"/>
<line x1="845.7" y1="135.6" x2="1070.7" y2="236.9" stroke="#d8a862" stroke-width="1.4" opacity="0.75"/>
<line x1="844.3" y1="138.9" x2="1069.3" y2="240.1" stroke="#9c6a30" stroke-width="1.2" opacity="0.75"/>
<line x1="845.0" y1="115.2" x2="1070.0" y2="216.5" stroke="#c08c48" stroke-width="5.0" opacity="0.75"/>
<line x1="845.7" y1="113.6" x2="1070.7" y2="214.9" stroke="#d8a862" stroke-width="1.4" opacity="0.75"/>
<line x1="844.3" y1="116.9" x2="1069.3" y2="218.1" stroke="#9c6a30" stroke-width="1.2" opacity="0.75"/>
<line x1="845.0" y1="93.2" x2="1070.0" y2="194.5" stroke="#c08c48" stroke-width="5.0" opacity="0.75"/>
<line x1="845.7" y1="91.6" x2="1070.7" y2="192.9" stroke="#d8a862" stroke-width="1.4" opacity="0.75"/>
<line x1="844.3" y1="94.9" x2="1069.3" y2="196.1" stroke="#9c6a30" stroke-width="1.2" opacity="0.75"/>
<line x1="753.0" y1="233.9" x2="823.0" y2="211.1" stroke="#a97d44" stroke-width="6.5" />
<line x1="752.2" y1="231.5" x2="822.2" y2="208.7" stroke="#c99c5c" stroke-width="1.4" />
<line x1="753.8" y1="236.3" x2="823.8" y2="213.5" stroke="#80582c" stroke-width="1.2" />
<line x1="765.5" y1="239.4" x2="835.5" y2="216.6" stroke="#a97d44" stroke-width="6.5" />
<line x1="764.7" y1="237.0" x2="834.7" y2="214.2" stroke="#c99c5c" stroke-width="1.4" />
<line x1="766.3" y1="241.8" x2="836.3" y2="219.0" stroke="#80582c" stroke-width="1.2" />
<line x1="778.0" y1="244.9" x2="848.0" y2="222.1" stroke="#a97d44" stroke-width="6.5" />
<line x1="777.2" y1="242.5" x2="847.2" y2="219.7" stroke="#c99c5c" stroke-width="1.4" />
<line x1="778.8" y1="247.3" x2="848.8" y2="224.5" stroke="#80582c" stroke-width="1.2" />
<line x1="790.5" y1="250.4" x2="900.5" y2="214.6" stroke="#a97d44" stroke-width="6.5" />
<line x1="789.7" y1="248.0" x2="899.7" y2="212.1" stroke="#c99c5c" stroke-width="1.4" />
<line x1="791.3" y1="252.8" x2="901.3" y2="217.0" stroke="#80582c" stroke-width="1.2" />
<line x1="803.0" y1="255.9" x2="913.0" y2="220.1" stroke="#a97d44" stroke-width="6.5" />
<line x1="802.2" y1="253.5" x2="912.2" y2="217.6" stroke="#c99c5c" stroke-width="1.4" />
<line x1="803.8" y1="258.3" x2="913.8" y2="222.5" stroke="#80582c" stroke-width="1.2" />
<line x1="815.5" y1="261.4" x2="925.5" y2="225.6" stroke="#a97d44" stroke-width="6.5" />
<line x1="814.7" y1="259.0" x2="924.7" y2="223.1" stroke="#c99c5c" stroke-width="1.4" />
<line x1="816.3" y1="263.8" x2="926.3" y2="228.0" stroke="#80582c" stroke-width="1.2" />
<line x1="828.0" y1="266.9" x2="938.0" y2="231.1" stroke="#a97d44" stroke-width="6.5" />
<line x1="827.2" y1="264.5" x2="937.2" y2="228.6" stroke="#c99c5c" stroke-width="1.4" />
<line x1="828.8" y1="269.3" x2="938.8" y2="233.5" stroke="#80582c" stroke-width="1.2" />
<line x1="840.5" y1="272.4" x2="1010.5" y2="217.0" stroke="#a97d44" stroke-width="6.5" />
<line x1="839.7" y1="270.0" x2="1009.7" y2="214.6" stroke="#c99c5c" stroke-width="1.4" />
<line x1="841.3" y1="274.8" x2="1011.3" y2="219.4" stroke="#80582c" stroke-width="1.2" />
<line x1="853.0" y1="277.9" x2="1023.0" y2="222.5" stroke="#a97d44" stroke-width="6.5" />
<line x1="852.2" y1="275.5" x2="1022.2" y2="220.1" stroke="#c99c5c" stroke-width="1.4" />
<line x1="853.8" y1="280.3" x2="1023.8" y2="224.9" stroke="#80582c" stroke-width="1.2" />
<line x1="865.5" y1="283.4" x2="1035.5" y2="228.0" stroke="#a97d44" stroke-width="6.5" />
<line x1="864.7" y1="281.0" x2="1034.7" y2="225.6" stroke="#c99c5c" stroke-width="1.4" />
<line x1="866.3" y1="285.8" x2="1036.3" y2="230.4" stroke="#80582c" stroke-width="1.2" />
<line x1="878.0" y1="288.9" x2="1048.0" y2="233.5" stroke="#a97d44" stroke-width="6.5" />
<line x1="877.2" y1="286.5" x2="1047.2" y2="231.1" stroke="#c99c5c" stroke-width="1.4" />
<line x1="878.8" y1="291.3" x2="1048.8" y2="235.9" stroke="#80582c" stroke-width="1.2" />
<line x1="890.5" y1="294.4" x2="1060.5" y2="239.0" stroke="#a97d44" stroke-width="6.5" />
<line x1="889.7" y1="292.0" x2="1059.7" y2="236.6" stroke="#c99c5c" stroke-width="1.4" />
<line x1="891.3" y1="296.8" x2="1061.3" y2="241.4" stroke="#80582c" stroke-width="1.2" />
<line x1="903.0" y1="299.9" x2="1073.0" y2="244.5" stroke="#a97d44" stroke-width="6.5" />
<line x1="902.2" y1="297.5" x2="1072.2" y2="242.1" stroke="#c99c5c" stroke-width="1.4" />
<line x1="903.8" y1="302.3" x2="1073.8" y2="246.9" stroke="#80582c" stroke-width="1.2" />
<line x1="915.5" y1="305.4" x2="1085.5" y2="250.0" stroke="#a97d44" stroke-width="6.5" />
<line x1="914.7" y1="303.0" x2="1084.7" y2="247.6" stroke="#c99c5c" stroke-width="1.4" />
<line x1="916.3" y1="307.8" x2="1086.3" y2="252.4" stroke="#80582c" stroke-width="1.2" />
<line x1="928.0" y1="310.9" x2="1098.0" y2="255.5" stroke="#a97d44" stroke-width="6.5" />
<line x1="927.2" y1="308.5" x2="1097.2" y2="253.1" stroke="#c99c5c" stroke-width="1.4" />
<line x1="928.8" y1="313.3" x2="1098.8" y2="257.9" stroke="#80582c" stroke-width="1.2" />
<line x1="940.5" y1="316.4" x2="1110.5" y2="261.0" stroke="#a97d44" stroke-width="6.5" />
<line x1="939.7" y1="314.0" x2="1109.7" y2="258.6" stroke="#c99c5c" stroke-width="1.4" />
<line x1="941.3" y1="318.8" x2="1111.3" y2="263.4" stroke="#80582c" stroke-width="1.2" />
<line x1="953.0" y1="321.9" x2="1123.0" y2="266.5" stroke="#a97d44" stroke-width="6.5" />
<line x1="952.2" y1="319.5" x2="1122.2" y2="264.1" stroke="#c99c5c" stroke-width="1.4" />
<line x1="953.8" y1="324.3" x2="1123.8" y2="268.9" stroke="#80582c" stroke-width="1.2" />
<line x1="965.5" y1="327.4" x2="1135.5" y2="272.0" stroke="#a97d44" stroke-width="6.5" />
<line x1="964.7" y1="325.0" x2="1134.7" y2="269.6" stroke="#c99c5c" stroke-width="1.4" />
<line x1="966.3" y1="329.8" x2="1136.3" y2="274.4" stroke="#80582c" stroke-width="1.2" />
<line x1="978.0" y1="332.9" x2="1148.0" y2="277.5" stroke="#a97d44" stroke-width="6.5" />
<line x1="977.2" y1="330.5" x2="1147.2" y2="275.1" stroke="#c99c5c" stroke-width="1.4" />
<line x1="978.8" y1="335.3" x2="1148.8" y2="279.9" stroke="#80582c" stroke-width="1.2" />
<line x1="990.5" y1="338.4" x2="1160.5" y2="283.0" stroke="#a97d44" stroke-width="6.5" />
<line x1="989.7" y1="336.0" x2="1159.7" y2="280.6" stroke="#c99c5c" stroke-width="1.4" />
<line x1="991.3" y1="340.8" x2="1161.3" y2="285.4" stroke="#80582c" stroke-width="1.2" />
<line x1="1003.0" y1="343.9" x2="1173.0" y2="288.5" stroke="#a97d44" stroke-width="6.5" />
<line x1="1002.2" y1="341.5" x2="1172.2" y2="286.1" stroke="#c99c5c" stroke-width="1.4" />
<line x1="1003.8" y1="346.3" x2="1173.8" y2="290.9" stroke="#80582c" stroke-width="1.2" />
<line x1="1015.5" y1="349.4" x2="1185.5" y2="294.0" stroke="#a97d44" stroke-width="6.5" />
<line x1="1014.7" y1="347.0" x2="1184.7" y2="291.6" stroke="#c99c5c" stroke-width="1.4" />
<line x1="1016.3" y1="351.8" x2="1186.3" y2="296.4" stroke="#80582c" stroke-width="1.2" />
<line x1="1028.0" y1="354.9" x2="1198.0" y2="299.5" stroke="#a97d44" stroke-width="6.5" />
<line x1="1027.2" y1="352.5" x2="1197.2" y2="297.1" stroke="#c99c5c" stroke-width="1.4" />
<line x1="1028.8" y1="357.3" x2="1198.8" y2="301.9" stroke="#80582c" stroke-width="1.2" />
<line x1="1040.5" y1="360.4" x2="1210.5" y2="305.0" stroke="#a97d44" stroke-width="6.5" />
<line x1="1039.7" y1="358.0" x2="1209.7" y2="302.6" stroke="#c99c5c" stroke-width="1.4" />
<line x1="1041.3" y1="362.8" x2="1211.3" y2="307.4" stroke="#80582c" stroke-width="1.2" />
<line x1="950.0" y1="245.6" x2="1100.0" y2="207.6" stroke="#b48750" stroke-width="6" opacity="0.9"/>
<line x1="949.4" y1="243.4" x2="1099.4" y2="205.4" stroke="#cfa464" stroke-width="1.4" opacity="0.9"/>
<line x1="950.6" y1="247.8" x2="1100.6" y2="209.8" stroke="#8e6436" stroke-width="1.2" opacity="0.9"/>
<line x1="966.0" y1="252.6" x2="1116.0" y2="214.6" stroke="#b48750" stroke-width="6" opacity="0.9"/>
<line x1="965.4" y1="250.4" x2="1115.4" y2="212.4" stroke="#cfa464" stroke-width="1.4" opacity="0.9"/>
<line x1="966.6" y1="254.9" x2="1116.6" y2="216.9" stroke="#8e6436" stroke-width="1.2" opacity="0.9"/>
<line x1="982.0" y1="259.7" x2="1132.0" y2="221.7" stroke="#b48750" stroke-width="6" opacity="0.9"/>
<line x1="981.4" y1="257.5" x2="1131.4" y2="219.5" stroke="#cfa464" stroke-width="1.4" opacity="0.9"/>
<line x1="982.6" y1="261.9" x2="1132.6" y2="223.9" stroke="#8e6436" stroke-width="1.2" opacity="0.9"/>
<line x1="998.0" y1="266.7" x2="1148.0" y2="228.7" stroke="#b48750" stroke-width="6" opacity="0.9"/>
<line x1="997.4" y1="264.5" x2="1147.4" y2="226.5" stroke="#cfa464" stroke-width="1.4" opacity="0.9"/>
<line x1="998.6" y1="268.9" x2="1148.6" y2="230.9" stroke="#8e6436" stroke-width="1.2" opacity="0.9"/>
<line x1="1014.0" y1="273.8" x2="1164.0" y2="235.8" stroke="#b48750" stroke-width="6" opacity="0.9"/>
<line x1="1013.4" y1="271.5" x2="1163.4" y2="233.5" stroke="#cfa464" stroke-width="1.4" opacity="0.9"/>
<line x1="1014.6" y1="276.0" x2="1164.6" y2="238.0" stroke="#8e6436" stroke-width="1.2" opacity="0.9"/>
</g>
<polygon points="723.0,228.5 998.5,23.3 998.5,28.3 723.0,233.5" fill="#d4a260" />
<line x1="723.0" y1="229.4" x2="998.5" y2="24.2" stroke="#e4bc7c" stroke-width="1.8" />
<line x1="723.0" y1="232.8" x2="998.5" y2="27.6" stroke="#aa7c44" stroke-width="1.4" />
<polygon points="721.5,229.5 723.0,228.5 723.0,233.5 721.5,234.0" fill="#c18a45" />
<polygon points="734.8,233.4 1010.5,28.0 1010.5,33.1 734.8,238.6" fill="#d4a260" />
<line x1="734.8" y1="234.3" x2="1010.5" y2="28.9" stroke="#e4bc7c" stroke-width="1.8" />
<line x1="734.8" y1="237.9" x2="1010.5" y2="32.4" stroke="#aa7c44" stroke-width="1.4" />
<polygon points="733.2,234.4 734.8,233.4 734.8,238.6 733.2,239.1" fill="#c18a45" />
<polygon points="746.5,238.4 1022.5,32.8 1022.5,38.0 746.5,243.6" fill="#d4a260" />
<line x1="746.5" y1="239.3" x2="1022.5" y2="33.7" stroke="#e4bc7c" stroke-width="1.8" />
<line x1="746.5" y1="242.9" x2="1022.5" y2="37.3" stroke="#aa7c44" stroke-width="1.4" />
<polygon points="745.0,239.4 746.5,238.4 746.5,243.6 745.0,244.1" fill="#c18a45" />
<polygon points="758.2,243.3 1034.5,37.5 1034.5,42.8 758.2,248.7" fill="#d4a260" />
<line x1="758.2" y1="244.2" x2="1034.5" y2="38.4" stroke="#e4bc7c" stroke-width="1.8" />
<line x1="758.2" y1="248.0" x2="1034.5" y2="42.1" stroke="#aa7c44" stroke-width="1.4" />
<polygon points="756.8,244.3 758.2,243.3 758.2,248.7 756.8,249.2" fill="#c18a45" />
<polygon points="770.0,248.3 1046.5,42.3 1046.5,47.7 770.0,253.7" fill="#d4a260" />
<line x1="770.0" y1="249.2" x2="1046.5" y2="43.2" stroke="#e4bc7c" stroke-width="1.8" />
<line x1="770.0" y1="253.0" x2="1046.5" y2="47.0" stroke="#aa7c44" stroke-width="1.4" />
<polygon points="768.5,249.3 770.0,248.3 770.0,253.7 768.5,254.2" fill="#c18a45" />
<polygon points="781.8,253.2 1058.5,47.0 1058.5,52.5 781.8,258.8" fill="#d4a260" />
<line x1="781.8" y1="254.2" x2="1058.5" y2="47.9" stroke="#e4bc7c" stroke-width="1.8" />
<line x1="781.8" y1="258.1" x2="1058.5" y2="51.8" stroke="#aa7c44" stroke-width="1.4" />
<polygon points="780.2,254.2 781.8,253.2 781.8,258.8 780.2,259.2" fill="#c18a45" />
<polygon points="793.5,258.2 1070.5,51.8 1070.5,57.4 793.5,263.8" fill="#d4a260" />
<line x1="793.5" y1="259.1" x2="1070.5" y2="52.7" stroke="#e4bc7c" stroke-width="1.8" />
<line x1="793.5" y1="263.1" x2="1070.5" y2="56.7" stroke="#aa7c44" stroke-width="1.4" />
<polygon points="792.0,259.2 793.5,258.2 793.5,263.8 792.0,264.3" fill="#c18a45" />
<polygon points="805.2,263.1 1075.0,62.2 1075.0,67.9 805.2,268.9" fill="#d4a260" />
<line x1="805.2" y1="264.0" x2="1075.0" y2="63.1" stroke="#e4bc7c" stroke-width="1.8" />
<line x1="805.2" y1="268.2" x2="1075.0" y2="67.2" stroke="#aa7c44" stroke-width="1.4" />
<polygon points="803.8,264.1 805.2,263.1 805.2,268.9 803.8,269.4" fill="#c18a45" />
<polygon points="817.0,268.1 1075.0,75.9 1075.0,81.7 817.0,273.9" fill="#d4a260" />
<line x1="817.0" y1="269.0" x2="1075.0" y2="76.8" stroke="#e4bc7c" stroke-width="1.8" />
<line x1="817.0" y1="273.2" x2="1075.0" y2="81.0" stroke="#aa7c44" stroke-width="1.4" />
<polygon points="815.5,269.1 817.0,268.1 817.0,273.9 815.5,274.4" fill="#c18a45" />
<polygon points="828.8,273.1 1075.0,89.6 1075.0,95.5 828.8,278.9" fill="#d4a260" />
<line x1="828.8" y1="273.9" x2="1075.0" y2="90.5" stroke="#e4bc7c" stroke-width="1.8" />
<line x1="828.8" y1="278.2" x2="1075.0" y2="94.8" stroke="#aa7c44" stroke-width="1.4" />
<polygon points="827.2,274.1 828.8,273.1 828.8,278.9 827.2,279.4" fill="#c18a45" />
<polygon points="840.5,278.0 1075.0,103.3 1075.0,109.3 840.5,284.0" fill="#d4a260" />
<line x1="840.5" y1="278.9" x2="1075.0" y2="104.2" stroke="#e4bc7c" stroke-width="1.8" />
<line x1="840.5" y1="283.3" x2="1075.0" y2="108.6" stroke="#aa7c44" stroke-width="1.4" />
<polygon points="839.0,279.0 840.5,278.0 840.5,284.0 839.0,284.5" fill="#c18a45" />
<polygon points="852.2,282.9 1075.0,117.0 1075.0,123.1 852.2,289.1" fill="#d4a260" />
<line x1="852.2" y1="283.8" x2="1075.0" y2="117.9" stroke="#e4bc7c" stroke-width="1.8" />
<line x1="852.2" y1="288.4" x2="1075.0" y2="122.4" stroke="#aa7c44" stroke-width="1.4" />
<polygon points="850.8,283.9 852.2,282.9 852.2,289.1 850.8,289.6" fill="#c18a45" />
<polygon points="864.0,287.9 1075.0,130.7 1075.0,136.9 864.0,294.1" fill="#d4a260" />
<line x1="864.0" y1="288.8" x2="1075.0" y2="131.6" stroke="#e4bc7c" stroke-width="1.8" />
<line x1="864.0" y1="293.4" x2="1075.0" y2="136.2" stroke="#aa7c44" stroke-width="1.4" />
<polygon points="862.5,288.9 864.0,287.9 864.0,294.1 862.5,294.6" fill="#c18a45" />
<polygon points="875.8,292.9 1075.0,144.4 1075.0,150.7 875.8,299.1" fill="#d4a260" />
<line x1="875.8" y1="293.8" x2="1075.0" y2="145.3" stroke="#e4bc7c" stroke-width="1.8" />
<line x1="875.8" y1="298.4" x2="1075.0" y2="150.0" stroke="#aa7c44" stroke-width="1.4" />
<polygon points="874.2,293.9 875.8,292.9 875.8,299.1 874.2,299.6" fill="#c18a45" />
<polygon points="887.5,297.8 1075.0,158.1 1075.0,164.5 887.5,304.2" fill="#d4a260" />
<line x1="887.5" y1="298.7" x2="1075.0" y2="159.0" stroke="#e4bc7c" stroke-width="1.8" />
<line x1="887.5" y1="303.5" x2="1075.0" y2="163.8" stroke="#aa7c44" stroke-width="1.4" />
<polygon points="886.0,298.8 887.5,297.8 887.5,304.2 886.0,304.7" fill="#c18a45" />
<polygon points="899.2,302.8 1075.0,171.8 1075.0,178.3 899.2,309.2" fill="#d4a260" />
<line x1="899.2" y1="303.6" x2="1075.0" y2="172.7" stroke="#e4bc7c" stroke-width="1.8" />
<line x1="899.2" y1="308.6" x2="1075.0" y2="177.6" stroke="#aa7c44" stroke-width="1.4" />
<polygon points="897.8,303.8 899.2,302.8 899.2,309.2 897.8,309.8" fill="#c18a45" />
<polygon points="911.0,307.7 1075.0,185.5 1075.0,192.1 911.0,314.3" fill="#d4a260" />
<line x1="911.0" y1="308.6" x2="1075.0" y2="186.4" stroke="#e4bc7c" stroke-width="1.8" />
<line x1="911.0" y1="313.6" x2="1075.0" y2="191.4" stroke="#aa7c44" stroke-width="1.4" />
<polygon points="909.5,308.7 911.0,307.7 911.0,314.3 909.5,314.8" fill="#c18a45" />
<polygon points="922.8,312.6 1075.0,199.2 1075.0,205.9 922.8,319.4" fill="#d4a260" />
<line x1="922.8" y1="313.5" x2="1075.0" y2="200.1" stroke="#e4bc7c" stroke-width="1.8" />
<line x1="922.8" y1="318.7" x2="1075.0" y2="205.2" stroke="#aa7c44" stroke-width="1.4" />
<polygon points="921.2,313.6 922.8,312.6 922.8,319.4 921.2,319.9" fill="#c18a45" />
<polygon points="934.5,317.6 1075.0,212.9 1075.0,219.7 934.5,324.4" fill="#d4a260" />
<line x1="934.5" y1="318.5" x2="1075.0" y2="213.8" stroke="#e4bc7c" stroke-width="1.8" />
<line x1="934.5" y1="323.7" x2="1075.0" y2="219.0" stroke="#aa7c44" stroke-width="1.4" />
<polygon points="933.0,318.6 934.5,317.6 934.5,324.4 933.0,324.9" fill="#c18a45" />
<polygon points="946.2,322.6 1075.0,226.6 1075.0,233.5 946.2,329.4" fill="#d4a260" />
<line x1="946.2" y1="323.4" x2="1075.0" y2="227.5" stroke="#e4bc7c" stroke-width="1.8" />
<line x1="946.2" y1="328.8" x2="1075.0" y2="232.8" stroke="#aa7c44" stroke-width="1.4" />
<polygon points="944.8,323.6 946.2,322.6 946.2,329.4 944.8,329.9" fill="#c18a45" />
<polygon points="958.0,327.5 1075.0,240.3 1075.0,247.3 958.0,334.5" fill="#d4a260" />
<line x1="958.0" y1="328.4" x2="1075.0" y2="241.2" stroke="#e4bc7c" stroke-width="1.8" />
<line x1="958.0" y1="333.8" x2="1075.0" y2="246.6" stroke="#aa7c44" stroke-width="1.4" />
<polygon points="956.5,328.5 958.0,327.5 958.0,334.5 956.5,335.0" fill="#c18a45" />
<polygon points="953.0,329.5 1075.0,236.8 1075.0,243.8 953.0,336.5" fill="#d4a260" />
<line x1="953.0" y1="330.4" x2="1075.0" y2="237.7" stroke="#e4bc7c" stroke-width="1.8" />
<line x1="953.0" y1="335.8" x2="1075.0" y2="243.1" stroke="#aa7c44" stroke-width="1.4" />
<polygon points="951.5,330.5 953.0,329.5 953.0,336.5 951.5,337.0" fill="#c18a45" />
<polygon points="987.3,17.3 1090.0,57.9 1090.0,98.5 952.2,44.1" fill="url(#panelG)" />
<polygon points="952.2,44.1 1090.0,98.5 1090.0,139.2 917.1,70.9" fill="url(#panelG)" />
<polygon points="917.1,70.9 1040.0,119.4 1005.0,146.3 882.0,97.7" fill="url(#panelG)" />
<polygon points="882.0,97.7 975.0,134.4 940.0,161.3 846.9,124.5" fill="url(#panelG)" />
<polygon points="846.9,124.5 966.0,171.5 931.0,198.4 811.8,151.3" fill="url(#panelG)" />
<polygon points="811.8,151.3 861.0,170.7 826.0,197.6 776.7,178.1" fill="url(#panelG)" />
<clipPath id="panClip"><polygon points="987.3,17.3 1090.0,57.9 1090.0,98.5 952.2,44.1"/><polygon points="952.2,44.1 1090.0,98.5 1090.0,139.2 917.1,70.9"/><polygon points="917.1,70.9 1040.0,119.4 1005.0,146.3 882.0,97.7"/><polygon points="882.0,97.7 975.0,134.4 940.0,161.3 846.9,124.5"/><polygon points="846.9,124.5 966.0,171.5 931.0,198.4 811.8,151.3"/><polygon points="811.8,151.3 861.0,170.7 826.0,197.6 776.7,178.1"/></clipPath>
<g clip-path="url(#panClip)">
<line x1="867.1" y1="39.4" x2="887.5" y2="47.5" stroke="#c8ba97" stroke-width="2.1" opacity="0.45"/>
<line x1="798.2" y1="123.6" x2="824.3" y2="134.0" stroke="#c5b692" stroke-width="0.9" opacity="0.45"/>
<line x1="900.1" y1="23.6" x2="908.1" y2="26.8" stroke="#ebe4cd" stroke-width="0.9" opacity="0.45"/>
<line x1="939.6" y1="194.8" x2="959.5" y2="202.7" stroke="#d0c3a0" stroke-width="2.3" opacity="0.45"/>
<line x1="943.1" y1="87.4" x2="970.6" y2="98.3" stroke="#c8ba97" stroke-width="1.7" opacity="0.45"/>
<line x1="810.0" y1="91.7" x2="827.8" y2="98.9" stroke="#d0c3a0" stroke-width="1.3" opacity="0.45"/>
<line x1="1014.8" y1="45.2" x2="1033.6" y2="52.8" stroke="#c5b692" stroke-width="1.4" opacity="0.45"/>
<line x1="934.3" y1="22.2" x2="941.6" y2="25.2" stroke="#c5b692" stroke-width="1.6" opacity="0.45"/>
<line x1="929.5" y1="161.6" x2="945.8" y2="168.1" stroke="#ebe4cd" stroke-width="1.4" opacity="0.45"/>
<line x1="844.5" y1="45.1" x2="867.7" y2="54.3" stroke="#c8ba97" stroke-width="1.7" opacity="0.45"/>
<line x1="927.6" y1="180.7" x2="949.6" y2="189.5" stroke="#efe9d6" stroke-width="1.8" opacity="0.45"/>
<line x1="792.0" y1="109.8" x2="801.6" y2="113.7" stroke="#efe9d6" stroke-width="1.0" opacity="0.45"/>
<line x1="916.7" y1="17.6" x2="937.4" y2="25.9" stroke="#d0c3a0" stroke-width="1.7" opacity="0.45"/>
<line x1="1032.6" y1="71.2" x2="1053.9" y2="79.7" stroke="#d0c3a0" stroke-width="1.6" opacity="0.45"/>
<line x1="1009.1" y1="23.4" x2="1017.1" y2="26.6" stroke="#efe9d6" stroke-width="1.6" opacity="0.45"/>
<line x1="969.2" y1="21.8" x2="990.7" y2="30.4" stroke="#d0c3a0" stroke-width="2.4" opacity="0.45"/>
<line x1="1016.6" y1="65.5" x2="1031.1" y2="71.3" stroke="#efe9d6" stroke-width="0.8" opacity="0.45"/>
<line x1="908.5" y1="42.8" x2="917.1" y2="46.2" stroke="#c8ba97" stroke-width="1.1" opacity="0.45"/>
<line x1="856.2" y1="154.0" x2="871.0" y2="159.9" stroke="#ebe4cd" stroke-width="0.9" opacity="0.45"/>
<line x1="904.8" y1="117.1" x2="930.2" y2="127.3" stroke="#ebe4cd" stroke-width="2.2" opacity="0.45"/>
<line x1="853.5" y1="91.0" x2="867.4" y2="96.5" stroke="#ebe4cd" stroke-width="2.3" opacity="0.45"/>
<line x1="815.3" y1="44.4" x2="826.4" y2="48.8" stroke="#c5b692" stroke-width="0.8" opacity="0.45"/>
<line x1="1019.3" y1="45.6" x2="1031.5" y2="50.4" stroke="#c5b692" stroke-width="1.5" opacity="0.45"/>
<line x1="880.8" y1="120.4" x2="907.7" y2="131.2" stroke="#d0c3a0" stroke-width="2.3" opacity="0.45"/>
<line x1="966.5" y1="154.3" x2="982.5" y2="160.7" stroke="#d0c3a0" stroke-width="1.4" opacity="0.45"/>
<line x1="889.7" y1="30.2" x2="909.6" y2="38.2" stroke="#c8ba97" stroke-width="1.1" opacity="0.45"/>
<line x1="1065.4" y1="95.9" x2="1073.8" y2="99.3" stroke="#d0c3a0" stroke-width="0.9" opacity="0.45"/>
<line x1="770.1" y1="39.5" x2="778.3" y2="42.8" stroke="#efe9d6" stroke-width="1.8" opacity="0.45"/>
<line x1="791.1" y1="50.6" x2="805.4" y2="56.3" stroke="#efe9d6" stroke-width="2.3" opacity="0.45"/>
<line x1="950.7" y1="102.5" x2="959.2" y2="105.9" stroke="#ebe4cd" stroke-width="2.4" opacity="0.45"/>
<line x1="909.8" y1="104.3" x2="917.7" y2="107.5" stroke="#c8ba97" stroke-width="2.0" opacity="0.45"/>
<line x1="992.1" y1="103.3" x2="1013.3" y2="111.8" stroke="#d0c3a0" stroke-width="0.8" opacity="0.45"/>
<line x1="1055.3" y1="113.0" x2="1064.5" y2="116.7" stroke="#d0c3a0" stroke-width="2.3" opacity="0.45"/>
<line x1="997.4" y1="68.1" x2="1017.6" y2="76.2" stroke="#c8ba97" stroke-width="1.9" opacity="0.45"/>
<line x1="848.3" y1="81.5" x2="858.0" y2="85.4" stroke="#c5b692" stroke-width="1.7" opacity="0.45"/>
<line x1="1003.7" y1="74.3" x2="1014.6" y2="78.6" stroke="#c5b692" stroke-width="2.1" opacity="0.45"/>
<line x1="1015.5" y1="154.3" x2="1026.5" y2="158.7" stroke="#d0c3a0" stroke-width="1.6" opacity="0.45"/>
<line x1="989.3" y1="203.0" x2="1012.7" y2="212.3" stroke="#ebe4cd" stroke-width="1.2" opacity="0.45"/>
<line x1="977.8" y1="196.5" x2="993.6" y2="202.9" stroke="#efe9d6" stroke-width="2.3" opacity="0.45"/>
<line x1="879.4" y1="53.0" x2="890.4" y2="57.4" stroke="#c5b692" stroke-width="1.3" opacity="0.45"/>
<line x1="914.8" y1="202.1" x2="934.2" y2="209.9" stroke="#c8ba97" stroke-width="1.6" opacity="0.45"/>
<line x1="965.9" y1="165.9" x2="973.8" y2="169.1" stroke="#c8ba97" stroke-width="2.3" opacity="0.45"/>
<line x1="1004.7" y1="156.3" x2="1021.2" y2="162.9" stroke="#c5b692" stroke-width="1.5" opacity="0.45"/>
<line x1="960.8" y1="26.9" x2="987.6" y2="37.6" stroke="#ebe4cd" stroke-width="1.5" opacity="0.45"/>
<line x1="993.0" y1="26.6" x2="1002.5" y2="30.4" stroke="#c5b692" stroke-width="0.8" opacity="0.45"/>
<line x1="947.2" y1="100.7" x2="967.7" y2="108.9" stroke="#d0c3a0" stroke-width="2.1" opacity="0.45"/>
<line x1="1064.1" y1="138.2" x2="1077.8" y2="143.7" stroke="#d0c3a0" stroke-width="1.7" opacity="0.45"/>
<line x1="776.4" y1="165.9" x2="798.4" y2="174.7" stroke="#c8ba97" stroke-width="1.6" opacity="0.45"/>
<line x1="1050.1" y1="94.6" x2="1075.3" y2="104.7" stroke="#c5b692" stroke-width="0.8" opacity="0.45"/>
<line x1="833.8" y1="107.7" x2="856.6" y2="116.8" stroke="#efe9d6" stroke-width="1.2" opacity="0.45"/>
<line x1="895.7" y1="35.6" x2="921.7" y2="46.0" stroke="#efe9d6" stroke-width="2.2" opacity="0.45"/>
<line x1="968.7" y1="168.9" x2="986.1" y2="175.9" stroke="#d0c3a0" stroke-width="1.0" opacity="0.45"/>
<line x1="815.6" y1="109.6" x2="840.8" y2="119.6" stroke="#c5b692" stroke-width="1.8" opacity="0.45"/>
<line x1="1002.8" y1="39.2" x2="1011.9" y2="42.9" stroke="#d0c3a0" stroke-width="2.0" opacity="0.45"/>
<line x1="936.9" y1="73.6" x2="954.3" y2="80.5" stroke="#d0c3a0" stroke-width="1.6" opacity="0.45"/>
<line x1="1002.9" y1="182.2" x2="1010.2" y2="185.1" stroke="#c5b692" stroke-width="1.2" opacity="0.45"/>
<line x1="1001.7" y1="109.0" x2="1020.0" y2="116.3" stroke="#c8ba97" stroke-width="1.5" opacity="0.45"/>
<line x1="953.8" y1="108.6" x2="971.0" y2="115.5" stroke="#efe9d6" stroke-width="1.5" opacity="0.45"/>
<line x1="930.0" y1="103.2" x2="956.7" y2="113.9" stroke="#d0c3a0" stroke-width="2.2" opacity="0.45"/>
<line x1="1052.7" y1="60.6" x2="1071.0" y2="67.9" stroke="#c5b692" stroke-width="2.1" opacity="0.45"/>
<line x1="811.1" y1="33.7" x2="826.9" y2="40.0" stroke="#c8ba97" stroke-width="1.9" opacity="0.45"/>
<line x1="898.5" y1="51.5" x2="911.2" y2="56.5" stroke="#c8ba97" stroke-width="2.2" opacity="0.45"/>
<line x1="816.3" y1="149.6" x2="836.9" y2="157.9" stroke="#c5b692" stroke-width="1.2" opacity="0.45"/>
<line x1="811.2" y1="101.2" x2="833.6" y2="110.2" stroke="#c8ba97" stroke-width="1.4" opacity="0.45"/>
<line x1="916.2" y1="203.0" x2="940.5" y2="212.8" stroke="#c5b692" stroke-width="1.9" opacity="0.45"/>
<line x1="1068.2" y1="88.7" x2="1083.5" y2="94.9" stroke="#efe9d6" stroke-width="1.3" opacity="0.45"/>
<line x1="986.6" y1="13.8" x2="1004.8" y2="21.1" stroke="#ebe4cd" stroke-width="1.9" opacity="0.45"/>
<line x1="885.3" y1="110.9" x2="897.8" y2="115.9" stroke="#c8ba97" stroke-width="1.0" opacity="0.45"/>
<line x1="1045.6" y1="54.6" x2="1070.8" y2="64.7" stroke="#c8ba97" stroke-width="1.2" opacity="0.45"/>
<line x1="781.9" y1="161.9" x2="793.8" y2="166.7" stroke="#c5b692" stroke-width="2.1" opacity="0.45"/>
<line x1="1024.9" y1="141.8" x2="1051.7" y2="152.5" stroke="#ebe4cd" stroke-width="1.0" opacity="0.45"/>
<line x1="1045.8" y1="121.3" x2="1067.2" y2="129.8" stroke="#c8ba97" stroke-width="1.2" opacity="0.45"/>
<line x1="1009.9" y1="45.8" x2="1035.6" y2="56.0" stroke="#efe9d6" stroke-width="2.3" opacity="0.45"/>
<line x1="960.3" y1="166.3" x2="968.2" y2="169.5" stroke="#c5b692" stroke-width="0.9" opacity="0.45"/>
<line x1="1028.8" y1="98.5" x2="1042.3" y2="103.9" stroke="#d0c3a0" stroke-width="1.5" opacity="0.45"/>
<line x1="1044.6" y1="131.2" x2="1051.6" y2="134.0" stroke="#c5b692" stroke-width="2.3" opacity="0.45"/>
<line x1="1060.8" y1="61.1" x2="1070.7" y2="65.1" stroke="#efe9d6" stroke-width="1.8" opacity="0.45"/>
<line x1="929.3" y1="50.1" x2="945.1" y2="56.5" stroke="#c5b692" stroke-width="1.2" opacity="0.45"/>
<line x1="1011.1" y1="203.9" x2="1017.9" y2="206.7" stroke="#c8ba97" stroke-width="2.0" opacity="0.45"/>
<line x1="935.3" y1="46.9" x2="951.8" y2="53.5" stroke="#ebe4cd" stroke-width="1.0" opacity="0.45"/>
<line x1="1015.7" y1="94.3" x2="1032.6" y2="101.0" stroke="#ebe4cd" stroke-width="2.4" opacity="0.45"/>
<line x1="862.3" y1="52.0" x2="873.4" y2="56.4" stroke="#c5b692" stroke-width="2.1" opacity="0.45"/>
<line x1="982.0" y1="134.0" x2="996.9" y2="140.0" stroke="#efe9d6" stroke-width="2.4" opacity="0.45"/>
<line x1="1021.1" y1="12.8" x2="1040.9" y2="20.7" stroke="#efe9d6" stroke-width="1.5" opacity="0.45"/>
<line x1="786.6" y1="139.7" x2="801.0" y2="145.5" stroke="#d0c3a0" stroke-width="1.9" opacity="0.45"/>
<line x1="854.6" y1="57.2" x2="867.0" y2="62.2" stroke="#ebe4cd" stroke-width="1.1" opacity="0.45"/>
<line x1="850.7" y1="10.7" x2="864.7" y2="16.3" stroke="#efe9d6" stroke-width="2.4" opacity="0.45"/>
<line x1="934.1" y1="57.7" x2="961.4" y2="68.6" stroke="#efe9d6" stroke-width="1.1" opacity="0.45"/>
<line x1="824.9" y1="75.4" x2="832.7" y2="78.5" stroke="#efe9d6" stroke-width="1.6" opacity="0.45"/>
<line x1="830.3" y1="108.4" x2="836.4" y2="110.9" stroke="#efe9d6" stroke-width="2.1" opacity="0.45"/>
<line x1="813.2" y1="124.4" x2="827.8" y2="130.3" stroke="#efe9d6" stroke-width="1.3" opacity="0.45"/>
<line x1="839.8" y1="124.2" x2="857.5" y2="131.2" stroke="#c5b692" stroke-width="1.9" opacity="0.45"/>
<line x1="984.8" y1="181.4" x2="999.4" y2="187.3" stroke="#efe9d6" stroke-width="2.0" opacity="0.45"/>
<line x1="918.3" y1="65.4" x2="937.9" y2="73.3" stroke="#c5b692" stroke-width="0.9" opacity="0.45"/>
<line x1="1020.6" y1="183.9" x2="1040.4" y2="191.8" stroke="#d0c3a0" stroke-width="1.0" opacity="0.45"/>
<line x1="927.1" y1="108.4" x2="951.5" y2="118.1" stroke="#c8ba97" stroke-width="2.1" opacity="0.45"/>
<line x1="945.2" y1="184.1" x2="966.2" y2="192.5" stroke="#c5b692" stroke-width="0.9" opacity="0.45"/>
<line x1="782.6" y1="134.2" x2="809.7" y2="145.1" stroke="#ebe4cd" stroke-width="2.1" opacity="0.45"/>
<line x1="937.6" y1="132.4" x2="957.3" y2="140.3" stroke="#c5b692" stroke-width="1.6" opacity="0.45"/>
<line x1="771.0" y1="165.6" x2="793.5" y2="174.5" stroke="#d0c3a0" stroke-width="2.2" opacity="0.45"/>
<line x1="797.6" y1="112.6" x2="820.0" y2="121.5" stroke="#ebe4cd" stroke-width="1.2" opacity="0.45"/>
<line x1="792.3" y1="61.8" x2="814.4" y2="70.6" stroke="#c5b692" stroke-width="1.2" opacity="0.45"/>
<line x1="965.0" y1="99.8" x2="989.6" y2="109.6" stroke="#c8ba97" stroke-width="1.6" opacity="0.45"/>
<line x1="975.1" y1="159.6" x2="994.7" y2="167.4" stroke="#c5b692" stroke-width="0.9" opacity="0.45"/>
<line x1="814.2" y1="59.5" x2="836.6" y2="68.5" stroke="#efe9d6" stroke-width="1.8" opacity="0.45"/>
<line x1="810.0" y1="104.1" x2="826.7" y2="110.7" stroke="#c8ba97" stroke-width="1.9" opacity="0.45"/>
<line x1="972.7" y1="66.7" x2="990.1" y2="73.7" stroke="#ebe4cd" stroke-width="1.5" opacity="0.45"/>
<line x1="1000.2" y1="203.7" x2="1018.2" y2="210.9" stroke="#efe9d6" stroke-width="2.4" opacity="0.45"/>
<line x1="1050.9" y1="13.4" x2="1067.0" y2="19.9" stroke="#d0c3a0" stroke-width="2.3" opacity="0.45"/>
<line x1="904.8" y1="62.4" x2="915.5" y2="66.6" stroke="#c5b692" stroke-width="0.9" opacity="0.45"/>
<line x1="797.1" y1="155.8" x2="808.9" y2="160.5" stroke="#efe9d6" stroke-width="1.0" opacity="0.45"/>
<line x1="1016.1" y1="109.2" x2="1041.6" y2="119.4" stroke="#efe9d6" stroke-width="1.2" opacity="0.45"/>
<line x1="1039.3" y1="104.8" x2="1045.9" y2="107.4" stroke="#c8ba97" stroke-width="2.3" opacity="0.45"/>
<line x1="974.5" y1="89.1" x2="996.5" y2="97.9" stroke="#ebe4cd" stroke-width="1.4" opacity="0.45"/>
<line x1="864.8" y1="173.8" x2="870.9" y2="176.3" stroke="#efe9d6" stroke-width="2.1" opacity="0.45"/>
<line x1="806.0" y1="190.6" x2="827.7" y2="199.3" stroke="#efe9d6" stroke-width="1.2" opacity="0.45"/>
<line x1="789.5" y1="86.1" x2="814.6" y2="96.1" stroke="#c8ba97" stroke-width="1.4" opacity="0.45"/>
<line x1="898.4" y1="63.7" x2="905.5" y2="66.5" stroke="#c8ba97" stroke-width="0.9" opacity="0.45"/>
<line x1="968.6" y1="133.8" x2="977.9" y2="137.5" stroke="#efe9d6" stroke-width="1.5" opacity="0.45"/>
<line x1="864.7" y1="160.8" x2="888.0" y2="170.1" stroke="#ebe4cd" stroke-width="2.2" opacity="0.45"/>
<line x1="1013.6" y1="133.0" x2="1039.7" y2="143.5" stroke="#d0c3a0" stroke-width="1.7" opacity="0.45"/>
<line x1="985.9" y1="19.6" x2="1008.0" y2="28.5" stroke="#ebe4cd" stroke-width="1.8" opacity="0.45"/>
<line x1="811.6" y1="179.5" x2="828.3" y2="186.2" stroke="#d0c3a0" stroke-width="1.0" opacity="0.45"/>
<line x1="911.7" y1="77.0" x2="924.2" y2="82.0" stroke="#efe9d6" stroke-width="1.4" opacity="0.45"/>
<line x1="841.6" y1="104.2" x2="862.3" y2="112.5" stroke="#c8ba97" stroke-width="1.1" opacity="0.45"/>
<line x1="818.5" y1="50.5" x2="844.4" y2="60.9" stroke="#ebe4cd" stroke-width="1.7" opacity="0.45"/>
<line x1="905.9" y1="74.9" x2="928.6" y2="84.0" stroke="#ebe4cd" stroke-width="1.0" opacity="0.45"/>
<line x1="827.7" y1="27.7" x2="841.2" y2="33.1" stroke="#c8ba97" stroke-width="1.3" opacity="0.45"/>
<line x1="880.5" y1="167.8" x2="890.9" y2="172.0" stroke="#c8ba97" stroke-width="2.0" opacity="0.45"/>
<line x1="893.8" y1="90.7" x2="911.4" y2="97.7" stroke="#ebe4cd" stroke-width="1.2" opacity="0.45"/>
<line x1="995.6" y1="107.1" x2="1014.3" y2="114.6" stroke="#efe9d6" stroke-width="1.0" opacity="0.45"/>
<line x1="921.0" y1="132.8" x2="946.0" y2="142.8" stroke="#c5b692" stroke-width="0.9" opacity="0.45"/>
<line x1="1039.0" y1="85.0" x2="1059.2" y2="93.1" stroke="#ebe4cd" stroke-width="2.3" opacity="0.45"/>
<line x1="1024.6" y1="180.2" x2="1031.1" y2="182.8" stroke="#c8ba97" stroke-width="1.5" opacity="0.45"/>
<line x1="999.1" y1="166.8" x2="1026.4" y2="177.7" stroke="#ebe4cd" stroke-width="0.8" opacity="0.45"/>
<line x1="887.5" y1="190.7" x2="911.6" y2="200.4" stroke="#ebe4cd" stroke-width="2.4" opacity="0.45"/>
<line x1="844.5" y1="31.3" x2="853.9" y2="35.0" stroke="#d0c3a0" stroke-width="2.4" opacity="0.45"/>
<line x1="802.7" y1="171.0" x2="824.1" y2="179.5" stroke="#ebe4cd" stroke-width="0.9" opacity="0.45"/>
<line x1="1003.1" y1="10.3" x2="1011.8" y2="13.8" stroke="#d0c3a0" stroke-width="2.3" opacity="0.45"/>
<line x1="963.7" y1="69.2" x2="972.5" y2="72.8" stroke="#efe9d6" stroke-width="1.6" opacity="0.45"/>
<line x1="901.2" y1="158.9" x2="909.4" y2="162.2" stroke="#efe9d6" stroke-width="1.6" opacity="0.45"/>
<line x1="944.9" y1="85.7" x2="955.8" y2="90.0" stroke="#d0c3a0" stroke-width="0.8" opacity="0.45"/>
<line x1="931.2" y1="204.3" x2="943.4" y2="209.1" stroke="#efe9d6" stroke-width="1.8" opacity="0.45"/>
<line x1="1035.1" y1="102.7" x2="1046.3" y2="107.2" stroke="#c5b692" stroke-width="0.8" opacity="0.45"/>
<line x1="893.5" y1="136.7" x2="900.8" y2="139.6" stroke="#c5b692" stroke-width="1.6" opacity="0.45"/>
<line x1="972.3" y1="91.9" x2="984.0" y2="96.6" stroke="#ebe4cd" stroke-width="2.3" opacity="0.45"/>
<line x1="838.0" y1="16.6" x2="851.5" y2="22.0" stroke="#ebe4cd" stroke-width="1.4" opacity="0.45"/>
<line x1="888.9" y1="11.3" x2="901.3" y2="16.3" stroke="#d0c3a0" stroke-width="0.9" opacity="0.45"/>
<line x1="918.7" y1="49.1" x2="941.6" y2="58.2" stroke="#c5b692" stroke-width="1.2" opacity="0.45"/>
<line x1="836.4" y1="158.3" x2="848.9" y2="163.3" stroke="#d0c3a0" stroke-width="1.6" opacity="0.45"/>
<line x1="826.2" y1="53.5" x2="841.4" y2="59.6" stroke="#c8ba97" stroke-width="2.3" opacity="0.45"/>
<line x1="813.9" y1="86.7" x2="824.6" y2="91.0" stroke="#d0c3a0" stroke-width="1.0" opacity="0.45"/>
<line x1="785.6" y1="21.7" x2="800.2" y2="27.6" stroke="#efe9d6" stroke-width="2.0" opacity="0.45"/>
<line x1="1069.3" y1="191.7" x2="1082.5" y2="197.0" stroke="#c5b692" stroke-width="1.8" opacity="0.45"/>
<line x1="927.4" y1="101.2" x2="940.3" y2="106.3" stroke="#ebe4cd" stroke-width="2.1" opacity="0.45"/>
<line x1="1065.5" y1="96.3" x2="1073.9" y2="99.6" stroke="#c8ba97" stroke-width="1.2" opacity="0.45"/>
<line x1="875.4" y1="196.3" x2="884.2" y2="199.8" stroke="#c5b692" stroke-width="1.4" opacity="0.45"/>
<line x1="1000.6" y1="70.2" x2="1024.3" y2="79.7" stroke="#c8ba97" stroke-width="0.9" opacity="0.45"/>
<line x1="912.0" y1="82.7" x2="938.3" y2="93.2" stroke="#c5b692" stroke-width="1.3" opacity="0.45"/>
<line x1="991.2" y1="102.5" x2="1011.1" y2="110.5" stroke="#c5b692" stroke-width="2.1" opacity="0.45"/>
<line x1="1000.0" y1="17.9" x2="1006.8" y2="20.6" stroke="#c8ba97" stroke-width="2.1" opacity="0.45"/>
<line x1="788.6" y1="48.0" x2="796.0" y2="51.0" stroke="#d0c3a0" stroke-width="1.3" opacity="0.45"/>
<line x1="851.7" y1="196.7" x2="871.3" y2="204.6" stroke="#efe9d6" stroke-width="2.0" opacity="0.45"/>
<line x1="976.9" y1="190.2" x2="989.4" y2="195.2" stroke="#d0c3a0" stroke-width="2.3" opacity="0.45"/>
<line x1="960.2" y1="193.9" x2="966.7" y2="196.5" stroke="#c5b692" stroke-width="1.0" opacity="0.45"/>
<line x1="984.7" y1="100.8" x2="1007.8" y2="110.1" stroke="#efe9d6" stroke-width="2.3" opacity="0.45"/>
<line x1="1014.4" y1="35.9" x2="1031.4" y2="42.6" stroke="#c8ba97" stroke-width="2.1" opacity="0.45"/>
<line x1="991.5" y1="170.4" x2="1014.5" y2="179.6" stroke="#d0c3a0" stroke-width="1.2" opacity="0.45"/>
<line x1="1028.4" y1="99.9" x2="1051.6" y2="109.2" stroke="#d0c3a0" stroke-width="0.9" opacity="0.45"/>
<line x1="829.2" y1="156.8" x2="840.6" y2="161.4" stroke="#c8ba97" stroke-width="1.8" opacity="0.45"/>
<line x1="914.5" y1="116.2" x2="924.0" y2="120.0" stroke="#ebe4cd" stroke-width="2.2" opacity="0.45"/>
<line x1="1066.3" y1="61.7" x2="1074.2" y2="64.8" stroke="#c8ba97" stroke-width="1.5" opacity="0.45"/>
<line x1="1066.5" y1="199.6" x2="1076.3" y2="203.5" stroke="#c5b692" stroke-width="1.5" opacity="0.45"/>
<line x1="956.1" y1="141.5" x2="978.5" y2="150.4" stroke="#c8ba97" stroke-width="2.0" opacity="0.45"/>
<line x1="858.2" y1="64.5" x2="870.1" y2="69.2" stroke="#efe9d6" stroke-width="2.0" opacity="0.45"/>
<line x1="829.8" y1="58.2" x2="841.2" y2="62.8" stroke="#c5b692" stroke-width="1.3" opacity="0.45"/>
<line x1="1042.3" y1="46.7" x2="1049.7" y2="49.7" stroke="#efe9d6" stroke-width="2.4" opacity="0.45"/>
<line x1="922.2" y1="55.1" x2="946.0" y2="64.6" stroke="#ebe4cd" stroke-width="2.4" opacity="0.45"/>
<line x1="800.7" y1="102.6" x2="824.7" y2="112.2" stroke="#ebe4cd" stroke-width="2.3" opacity="0.45"/>
<line x1="782.1" y1="67.3" x2="790.7" y2="70.7" stroke="#c5b692" stroke-width="1.8" opacity="0.45"/>
<line x1="1018.4" y1="47.9" x2="1026.0" y2="50.9" stroke="#d0c3a0" stroke-width="2.2" opacity="0.45"/>
<line x1="904.7" y1="60.7" x2="927.8" y2="69.9" stroke="#c8ba97" stroke-width="1.0" opacity="0.45"/>
<line x1="948.8" y1="130.9" x2="959.6" y2="135.2" stroke="#efe9d6" stroke-width="1.3" opacity="0.45"/>
<line x1="783.2" y1="205.0" x2="790.1" y2="207.7" stroke="#c5b692" stroke-width="2.1" opacity="0.45"/>
<line x1="1015.6" y1="89.8" x2="1029.8" y2="95.4" stroke="#d0c3a0" stroke-width="1.3" opacity="0.45"/>
<line x1="831.0" y1="165.1" x2="849.1" y2="172.3" stroke="#c8ba97" stroke-width="1.5" opacity="0.45"/>
<line x1="1008.8" y1="139.5" x2="1018.2" y2="143.2" stroke="#d0c3a0" stroke-width="0.9" opacity="0.45"/>
<line x1="819.1" y1="145.6" x2="834.1" y2="151.6" stroke="#efe9d6" stroke-width="1.9" opacity="0.45"/>
<line x1="895.4" y1="20.0" x2="917.8" y2="29.0" stroke="#efe9d6" stroke-width="1.5" opacity="0.45"/>
<line x1="775.5" y1="159.5" x2="799.1" y2="169.0" stroke="#c5b692" stroke-width="1.4" opacity="0.45"/>
<line x1="891.5" y1="193.7" x2="907.0" y2="199.9" stroke="#c5b692" stroke-width="1.5" opacity="0.45"/>
<line x1="1016.1" y1="89.2" x2="1041.5" y2="99.4" stroke="#ebe4cd" stroke-width="2.0" opacity="0.45"/>
<line x1="809.0" y1="20.1" x2="818.1" y2="23.7" stroke="#ebe4cd" stroke-width="0.9" opacity="0.45"/>
<line x1="956.7" y1="82.3" x2="973.8" y2="89.2" stroke="#c5b692" stroke-width="1.4" opacity="0.45"/>
<line x1="818.5" y1="43.5" x2="826.0" y2="46.5" stroke="#ebe4cd" stroke-width="1.6" opacity="0.45"/>
<line x1="1011.4" y1="198.5" x2="1021.8" y2="202.7" stroke="#c5b692" stroke-width="2.1" opacity="0.45"/>
<line x1="783.0" y1="188.0" x2="796.0" y2="193.2" stroke="#d0c3a0" stroke-width="2.3" opacity="0.45"/>
<line x1="886.4" y1="186.3" x2="906.0" y2="194.2" stroke="#c5b692" stroke-width="1.8" opacity="0.45"/>
<line x1="1027.0" y1="131.1" x2="1046.5" y2="138.9" stroke="#c5b692" stroke-width="2.1" opacity="0.45"/>
<line x1="824.9" y1="52.5" x2="839.7" y2="58.5" stroke="#d0c3a0" stroke-width="1.1" opacity="0.45"/>
<line x1="877.8" y1="39.1" x2="905.1" y2="50.1" stroke="#c5b692" stroke-width="0.9" opacity="0.45"/>
<line x1="938.7" y1="157.7" x2="945.5" y2="160.4" stroke="#efe9d6" stroke-width="1.0" opacity="0.45"/>
<line x1="949.9" y1="117.3" x2="969.7" y2="125.2" stroke="#efe9d6" stroke-width="1.8" opacity="0.45"/>
<line x1="862.5" y1="58.6" x2="877.0" y2="64.4" stroke="#efe9d6" stroke-width="1.5" opacity="0.45"/>
<line x1="901.5" y1="14.6" x2="921.1" y2="22.4" stroke="#ebe4cd" stroke-width="1.5" opacity="0.45"/>
<line x1="904.0" y1="130.6" x2="928.1" y2="140.2" stroke="#c5b692" stroke-width="2.1" opacity="0.45"/>
<line x1="890.1" y1="23.1" x2="904.0" y2="28.6" stroke="#efe9d6" stroke-width="0.9" opacity="0.45"/>
<line x1="902.6" y1="109.5" x2="909.5" y2="112.2" stroke="#c5b692" stroke-width="0.9" opacity="0.45"/>
<line x1="990.0" y1="161.6" x2="1007.3" y2="168.5" stroke="#c8ba97" stroke-width="2.0" opacity="0.45"/>
<line x1="1038.5" y1="137.3" x2="1061.7" y2="146.6" stroke="#c8ba97" stroke-width="2.2" opacity="0.45"/>
<line x1="1068.8" y1="152.8" x2="1092.8" y2="162.3" stroke="#c5b692" stroke-width="1.0" opacity="0.45"/>
<line x1="1035.7" y1="66.1" x2="1059.6" y2="75.7" stroke="#c5b692" stroke-width="1.9" opacity="0.45"/>
<line x1="986.3" y1="53.1" x2="1010.7" y2="62.9" stroke="#d0c3a0" stroke-width="2.0" opacity="0.45"/>
<line x1="817.6" y1="184.8" x2="829.7" y2="189.6" stroke="#ebe4cd" stroke-width="1.0" opacity="0.45"/>
<line x1="920.7" y1="189.4" x2="931.2" y2="193.6" stroke="#efe9d6" stroke-width="1.8" opacity="0.45"/>
<line x1="841.2" y1="82.6" x2="851.6" y2="86.7" stroke="#ebe4cd" stroke-width="1.1" opacity="0.45"/>
<line x1="1050.9" y1="142.5" x2="1076.6" y2="152.8" stroke="#c5b692" stroke-width="2.1" opacity="0.45"/>
<line x1="849.3" y1="159.8" x2="856.4" y2="162.6" stroke="#efe9d6" stroke-width="2.3" opacity="0.45"/>
<line x1="905.9" y1="111.7" x2="927.1" y2="120.1" stroke="#c8ba97" stroke-width="1.2" opacity="0.45"/>
<line x1="930.7" y1="177.0" x2="952.9" y2="185.9" stroke="#efe9d6" stroke-width="1.2" opacity="0.45"/>
<line x1="1067.1" y1="122.6" x2="1081.1" y2="128.2" stroke="#c8ba97" stroke-width="1.5" opacity="0.45"/>
<line x1="823.0" y1="155.0" x2="830.1" y2="157.8" stroke="#d0c3a0" stroke-width="1.2" opacity="0.45"/>
<line x1="961.8" y1="201.9" x2="980.7" y2="209.4" stroke="#efe9d6" stroke-width="2.0" opacity="0.45"/>
<line x1="994.1" y1="53.2" x2="1006.5" y2="58.2" stroke="#ebe4cd" stroke-width="1.5" opacity="0.45"/>
<line x1="879.2" y1="19.3" x2="896.0" y2="26.0" stroke="#d0c3a0" stroke-width="1.8" opacity="0.45"/>
<line x1="776.7" y1="10.5" x2="790.5" y2="16.0" stroke="#c8ba97" stroke-width="1.6" opacity="0.45"/>
<line x1="930.2" y1="90.6" x2="942.9" y2="95.6" stroke="#c5b692" stroke-width="1.1" opacity="0.45"/>
<line x1="957.2" y1="102.6" x2="966.1" y2="106.2" stroke="#c5b692" stroke-width="1.9" opacity="0.45"/>
<line x1="905.3" y1="22.4" x2="914.4" y2="26.1" stroke="#efe9d6" stroke-width="1.4" opacity="0.45"/>
<line x1="849.3" y1="12.2" x2="869.5" y2="20.3" stroke="#d0c3a0" stroke-width="2.2" opacity="0.45"/>
<line x1="948.4" y1="122.8" x2="967.7" y2="130.5" stroke="#d0c3a0" stroke-width="2.0" opacity="0.45"/>
<line x1="844.5" y1="186.2" x2="851.5" y2="189.0" stroke="#d0c3a0" stroke-width="0.8" opacity="0.45"/>
<line x1="825.7" y1="41.0" x2="851.8" y2="51.5" stroke="#c8ba97" stroke-width="0.8" opacity="0.45"/>
<line x1="935.3" y1="193.5" x2="944.4" y2="197.1" stroke="#c5b692" stroke-width="1.6" opacity="0.45"/>
<line x1="962.8" y1="136.3" x2="977.9" y2="142.3" stroke="#d0c3a0" stroke-width="1.1" opacity="0.45"/>
<line x1="862.8" y1="68.6" x2="869.9" y2="71.4" stroke="#ebe4cd" stroke-width="1.9" opacity="0.45"/>
<line x1="771.9" y1="174.7" x2="794.3" y2="183.6" stroke="#ebe4cd" stroke-width="0.9" opacity="0.45"/>
<line x1="966.7" y1="44.2" x2="994.6" y2="55.4" stroke="#efe9d6" stroke-width="1.2" opacity="0.45"/>
<line x1="781.6" y1="75.4" x2="804.1" y2="84.4" stroke="#efe9d6" stroke-width="1.9" opacity="0.45"/>
<line x1="849.8" y1="118.0" x2="865.4" y2="124.2" stroke="#d0c3a0" stroke-width="2.4" opacity="0.45"/>
<line x1="858.7" y1="191.1" x2="884.4" y2="201.3" stroke="#c8ba97" stroke-width="2.2" opacity="0.45"/>
<line x1="774.6" y1="60.8" x2="785.8" y2="65.2" stroke="#c5b692" stroke-width="2.3" opacity="0.45"/>
<line x1="993.8" y1="73.7" x2="1019.2" y2="83.9" stroke="#efe9d6" stroke-width="1.8" opacity="0.45"/>
<line x1="883.8" y1="176.1" x2="910.1" y2="186.6" stroke="#d0c3a0" stroke-width="1.6" opacity="0.45"/>
<line x1="1021.9" y1="146.0" x2="1046.8" y2="156.0" stroke="#ebe4cd" stroke-width="2.3" opacity="0.45"/>
<line x1="840.1" y1="182.5" x2="863.5" y2="191.9" stroke="#ebe4cd" stroke-width="1.8" opacity="0.45"/>
<line x1="793.3" y1="187.6" x2="802.5" y2="191.3" stroke="#c8ba97" stroke-width="1.0" opacity="0.45"/>
<line x1="956.6" y1="41.6" x2="984.1" y2="52.6" stroke="#c8ba97" stroke-width="0.8" opacity="0.45"/>
<line x1="811.5" y1="135.5" x2="818.5" y2="138.3" stroke="#c8ba97" stroke-width="2.0" opacity="0.45"/>
<line x1="789.7" y1="125.1" x2="803.7" y2="130.7" stroke="#d0c3a0" stroke-width="2.2" opacity="0.45"/>
<line x1="789.8" y1="179.2" x2="815.9" y2="189.7" stroke="#ebe4cd" stroke-width="1.0" opacity="0.45"/>
<line x1="831.7" y1="31.8" x2="838.5" y2="34.5" stroke="#c8ba97" stroke-width="2.1" opacity="0.45"/>
<line x1="959.5" y1="66.0" x2="967.7" y2="69.3" stroke="#c8ba97" stroke-width="2.1" opacity="0.45"/>
<line x1="963.9" y1="67.4" x2="977.3" y2="72.8" stroke="#efe9d6" stroke-width="0.8" opacity="0.45"/>
<line x1="847.0" y1="65.1" x2="868.8" y2="73.8" stroke="#efe9d6" stroke-width="2.3" opacity="0.45"/>
<line x1="1000.8" y1="127.4" x2="1017.2" y2="134.0" stroke="#efe9d6" stroke-width="1.8" opacity="0.45"/>
<line x1="779.3" y1="90.5" x2="794.9" y2="96.8" stroke="#c8ba97" stroke-width="1.4" opacity="0.45"/>
<line x1="981.4" y1="114.9" x2="992.2" y2="119.2" stroke="#c8ba97" stroke-width="1.7" opacity="0.45"/>
<line x1="856.1" y1="95.0" x2="873.7" y2="102.0" stroke="#efe9d6" stroke-width="2.0" opacity="0.45"/>
<line x1="1063.4" y1="10.9" x2="1080.2" y2="17.6" stroke="#ebe4cd" stroke-width="1.9" opacity="0.45"/>
<ellipse cx="1019" cy="194" rx="18" ry="7" fill="#ebe4ce" opacity="0.25" transform="rotate(22 1019 194)"/>
<ellipse cx="948" cy="44" rx="21" ry="7" fill="#cdbf9c" opacity="0.25" transform="rotate(22 948 44)"/>
<ellipse cx="925" cy="35" rx="19" ry="3" fill="#cdbf9c" opacity="0.25" transform="rotate(22 925 35)"/>
<ellipse cx="962" cy="81" rx="16" ry="5" fill="#cdbf9c" opacity="0.25" transform="rotate(22 962 81)"/>
<ellipse cx="902" cy="134" rx="15" ry="4" fill="#ebe4ce" opacity="0.25" transform="rotate(22 902 134)"/>
<ellipse cx="1041" cy="108" rx="15" ry="7" fill="#cdbf9c" opacity="0.25" transform="rotate(22 1041 108)"/>
<ellipse cx="1054" cy="38" rx="18" ry="6" fill="#cdbf9c" opacity="0.25" transform="rotate(22 1054 38)"/>
<ellipse cx="881" cy="75" rx="12" ry="6" fill="#ebe4ce" opacity="0.25" transform="rotate(22 881 75)"/>
<ellipse cx="829" cy="96" rx="21" ry="5" fill="#cdbf9c" opacity="0.25" transform="rotate(22 829 96)"/>
<ellipse cx="877" cy="134" rx="20" ry="5" fill="#ebe4ce" opacity="0.25" transform="rotate(22 877 134)"/>
<ellipse cx="867" cy="145" rx="22" ry="4" fill="#cdbf9c" opacity="0.25" transform="rotate(22 867 145)"/>
<ellipse cx="1063" cy="149" rx="18" ry="4" fill="#cdbf9c" opacity="0.25" transform="rotate(22 1063 149)"/>
<ellipse cx="875" cy="50" rx="24" ry="6" fill="#cdbf9c" opacity="0.25" transform="rotate(22 875 50)"/>
<ellipse cx="828" cy="137" rx="13" ry="4" fill="#cdbf9c" opacity="0.25" transform="rotate(22 828 137)"/>
<ellipse cx="1011" cy="151" rx="16" ry="4" fill="#cdbf9c" opacity="0.25" transform="rotate(22 1011 151)"/>
<ellipse cx="861" cy="179" rx="16" ry="3" fill="#ebe4ce" opacity="0.25" transform="rotate(22 861 179)"/>
<ellipse cx="981" cy="108" rx="19" ry="5" fill="#cdbf9c" opacity="0.25" transform="rotate(22 981 108)"/>
<ellipse cx="855" cy="152" rx="10" ry="4" fill="#ebe4ce" opacity="0.25" transform="rotate(22 855 152)"/>
<ellipse cx="983" cy="124" rx="19" ry="6" fill="#cdbf9c" opacity="0.25" transform="rotate(22 983 124)"/>
<ellipse cx="977" cy="134" rx="16" ry="4" fill="#cdbf9c" opacity="0.25" transform="rotate(22 977 134)"/>
<ellipse cx="1039" cy="60" rx="16" ry="6" fill="#cdbf9c" opacity="0.25" transform="rotate(22 1039 60)"/>
<ellipse cx="853" cy="93" rx="16" ry="5" fill="#ebe4ce" opacity="0.25" transform="rotate(22 853 93)"/>
<ellipse cx="930" cy="137" rx="22" ry="7" fill="#ebe4ce" opacity="0.25" transform="rotate(22 930 137)"/>
<ellipse cx="1006" cy="87" rx="17" ry="7" fill="#cdbf9c" opacity="0.25" transform="rotate(22 1006 87)"/>
<ellipse cx="853" cy="55" rx="20" ry="7" fill="#cdbf9c" opacity="0.25" transform="rotate(22 853 55)"/>
</g>
<line x1="952.2" y1="45.3" x2="1090.0" y2="99.7" stroke="#f0e9d4" stroke-width="1.0" opacity="0.8"/>
<line x1="952.2" y1="44.1" x2="1090.0" y2="98.5" stroke="#8a6e4e" stroke-width="1.3" opacity="0.75" stroke-dasharray="6 1.5"/>
<line x1="1045.0" y1="40.1" x2="1009.9" y2="66.9" stroke="#b8aa88" stroke-width="1.1" opacity="0.8"/>
<line x1="1046.0" y1="40.1" x2="1010.9" y2="66.9" stroke="#f2ecda" stroke-width="0.9" opacity="0.8"/>
<line x1="917.1" y1="72.1" x2="1090.0" y2="140.4" stroke="#f0e9d4" stroke-width="1.0" opacity="0.8"/>
<line x1="917.1" y1="70.9" x2="1090.0" y2="139.2" stroke="#8a6e4e" stroke-width="1.3" opacity="0.75" stroke-dasharray="6 1.5"/>
<line x1="984.0" y1="56.7" x2="948.9" y2="83.5" stroke="#b8aa88" stroke-width="1.1" opacity="0.8"/>
<line x1="985.0" y1="56.7" x2="949.9" y2="83.5" stroke="#f2ecda" stroke-width="0.9" opacity="0.8"/>
<line x1="1044.0" y1="80.4" x2="1008.9" y2="107.2" stroke="#b8aa88" stroke-width="1.1" opacity="0.8"/>
<line x1="1045.0" y1="80.4" x2="1009.9" y2="107.2" stroke="#f2ecda" stroke-width="0.9" opacity="0.8"/>
<line x1="882.0" y1="98.9" x2="1005.0" y2="147.5" stroke="#f0e9d4" stroke-width="1.0" opacity="0.8"/>
<line x1="882.0" y1="97.7" x2="1005.0" y2="146.3" stroke="#8a6e4e" stroke-width="1.3" opacity="0.75" stroke-dasharray="6 1.5"/>
<line x1="976.0" y1="94.2" x2="940.9" y2="121.0" stroke="#b8aa88" stroke-width="1.1" opacity="0.8"/>
<line x1="977.0" y1="94.2" x2="941.9" y2="121.0" stroke="#f2ecda" stroke-width="0.9" opacity="0.8"/>
<line x1="1005.0" y1="146.3" x2="1040.0" y2="119.4" stroke="#b3a684" stroke-width="1.2" />
<line x1="846.9" y1="125.7" x2="940.0" y2="162.5" stroke="#f0e9d4" stroke-width="1.0" opacity="0.8"/>
<line x1="846.9" y1="124.5" x2="940.0" y2="161.3" stroke="#8a6e4e" stroke-width="1.3" opacity="0.75" stroke-dasharray="6 1.5"/>
<line x1="914.7" y1="110.6" x2="879.6" y2="137.4" stroke="#b8aa88" stroke-width="1.1" opacity="0.8"/>
<line x1="915.7" y1="110.6" x2="880.6" y2="137.4" stroke="#f2ecda" stroke-width="0.9" opacity="0.8"/>
<line x1="940.0" y1="161.3" x2="975.0" y2="134.4" stroke="#b3a684" stroke-width="1.2" />
<line x1="811.8" y1="152.5" x2="931.0" y2="199.6" stroke="#f0e9d4" stroke-width="1.0" opacity="0.8"/>
<line x1="811.8" y1="151.3" x2="931.0" y2="198.4" stroke="#8a6e4e" stroke-width="1.3" opacity="0.75" stroke-dasharray="6 1.5"/>
<line x1="903.6" y1="146.9" x2="868.5" y2="173.7" stroke="#b8aa88" stroke-width="1.1" opacity="0.8"/>
<line x1="904.6" y1="146.9" x2="869.5" y2="173.7" stroke="#f2ecda" stroke-width="0.9" opacity="0.8"/>
<line x1="931.0" y1="198.4" x2="966.0" y2="171.5" stroke="#b3a684" stroke-width="1.2" />
<line x1="776.7" y1="179.3" x2="826.0" y2="198.8" stroke="#f0e9d4" stroke-width="1.0" opacity="0.8"/>
<line x1="776.7" y1="178.1" x2="826.0" y2="197.6" stroke="#8a6e4e" stroke-width="1.3" opacity="0.75" stroke-dasharray="6 1.5"/>
<line x1="826.0" y1="197.6" x2="861.0" y2="170.7" stroke="#b3a684" stroke-width="1.2" />
</g>

<!-- ===== CALLOUT BOXES ===== -->
<path d="M55.9 59.8 H592.4 V253.6 L990 590 L592.4 315.4 V394.4 H55.9 Z" fill="#fff" stroke="#747474" stroke-width="2"/>
<path d="M329.8 473 H592.5 V531.6 L789.5 549.8 L592.5 575.7 V717.8 H329.8 Z" fill="#fff" stroke="#777" stroke-width="1.6"/>

<!-- ===== SMALL HOUSE ILLUSTRATION ===== -->
<g id="mini">

  <!-- back post -->
  <rect x="297" y="160" width="5" height="38" fill="#ab7c44"/>
  <!-- bottom floor -->
  <polygon fill="#ab7c44" points="221,300.5 292,260 412.5,279 412.5,284 352.5,341.5 221,308.5"/>
  <polygon fill="#a57741" points="229,301 293,266 402,281.5 351,326"/>
  <!-- middle floor -->
  <polygon fill="#ab7c44" points="221,240 299,196 412.5,216 412.5,223 352.5,275.5 221,248.5"/>
  <polygon fill="#a57741" points="229,240.5 300,202 402,219 351,260"/>
  <!-- top beam -->
  <polygon fill="#ab7c44" points="222,176 298,190.5 298,196.5 222,182"/>
  <!-- posts -->
  <rect x="219.4" y="177" width="5.9" height="131" fill="#ab7c44"/>
  <rect x="349.5" y="220" width="6" height="121" fill="#ab7c44"/>
  <rect x="407" y="185" width="5.8" height="99" fill="#ab7c44"/>
  <!-- roof -->
  <polygon fill="url(#roofL)" points="208,183.2 281.5,134.5 354.2,106.3 353,108.5 286,157 282.4,155"/>
  <polygon fill="url(#roofR)" points="282.6,155 354.1,106.9 431.2,169.6 365.5,228.1"/>
  <!-- arrows -->
  <polygon fill="url(#arrL)" points="189.6,229.6 158.2,230.4 165.5,240.8 134.6,255.6 152.5,277.1 173.7,251.4 181.8,260.5"/>
  <polygon fill="url(#arrR)" points="447,219.5 455.8,189 463.5,199 486.5,173.5 502.5,195.5 472,210.5 478.5,220.5"/>
</g>

<!-- ===== POST ===== -->
<g id="post">
<defs><linearGradient id="pfront" x1="414" y1="0" x2="465.5" y2="0" gradientUnits="userSpaceOnUse"><stop offset="0" stop-color="#e6b36c"/><stop offset="0.12" stop-color="#ebbd78"/><stop offset="0.2" stop-color="#e9b468"/><stop offset="0.3" stop-color="#eec686"/><stop offset="0.42" stop-color="#e9b060"/><stop offset="0.62" stop-color="#e8ac5c"/><stop offset="0.7" stop-color="#edc482"/><stop offset="0.82" stop-color="#eac07c"/><stop offset="0.92" stop-color="#e6b46c"/><stop offset="1" stop-color="#ecc888"/></linearGradient></defs>
<polygon fill="url(#pfront)" points="414,503.6 465.5,512.6 465.3,700.7 414,689.5"/>
<rect x="426.7" y="506.2" width="1.1" height="186" fill="#f2d29a" opacity="0.87"/>
<rect x="438.2" y="508.2" width="1.1" height="186" fill="#f0cf92" opacity="0.86"/>
<rect x="438.0" y="508.2" width="1.1" height="186" fill="#e5a552" opacity="0.90"/>
<rect x="438.0" y="508.2" width="1.4" height="186" fill="#e0a04e" opacity="0.66"/>
<rect x="457.2" y="511.6" width="0.7" height="186" fill="#e5a552" opacity="0.85"/>
<rect x="440.6" y="508.7" width="1.3" height="186" fill="#f0cf92" opacity="0.56"/>
<rect x="461.9" y="512.4" width="0.5" height="186" fill="#f0cf92" opacity="0.83"/>
<rect x="428.2" y="506.5" width="1.1" height="186" fill="#e0a04e" opacity="0.79"/>
<rect x="460.1" y="512.1" width="0.9" height="186" fill="#e0a04e" opacity="0.89"/>
<rect x="421.6" y="505.3" width="0.8" height="186" fill="#f0cf92" opacity="0.55"/>
<rect x="425.6" y="506.0" width="1.6" height="186" fill="#e0a04e" opacity="0.81"/>
<rect x="456.9" y="511.5" width="0.9" height="186" fill="#e0a04e" opacity="0.73"/>
<rect x="441.2" y="508.8" width="0.9" height="186" fill="#e5a552" opacity="0.86"/>
<rect x="448.4" y="510.0" width="1.5" height="186" fill="#f2d29a" opacity="0.90"/>
<rect x="447.9" y="509.9" width="0.6" height="186" fill="#f2d29a" opacity="0.89"/>
<rect x="459.3" y="511.9" width="1.1" height="186" fill="#e5a552" opacity="0.75"/>
<rect x="463.4" y="512.6" width="0.7" height="186" fill="#f0cf92" opacity="0.53"/>
<rect x="456.8" y="511.5" width="1.6" height="186" fill="#f0cf92" opacity="0.64"/>
<rect x="418.3" y="504.7" width="1.5" height="186" fill="#f0cf92" opacity="0.62"/>
<rect x="452.7" y="510.8" width="1.4" height="186" fill="#f0cf92" opacity="0.74"/>
<rect x="452.3" y="510.7" width="0.9" height="186" fill="#f2d29a" opacity="0.72"/>
<rect x="460.2" y="512.1" width="0.7" height="186" fill="#e5a552" opacity="0.90"/>
<polygon fill="#a97c4e" points="465.5,512.6 505.5,499.7 505.5,687.8 465.5,700.7"/>
<polygon fill="#6f3d12" points="470.4,511.0 472.2,510.4 472.2,698.5 470.4,699.1"/>
<polygon fill="#8f5e30" opacity="0.6" points="469.2,511.4 470.4,511.0 470.4,699.1 469.2,699.5"/>
<polygon fill="#6f3d12" points="477.1,508.9 478.9,508.3 478.9,696.4 477.1,697.0"/>
<polygon fill="#8f5e30" opacity="0.6" points="475.9,509.2 477.1,508.9 477.1,697.0 475.9,697.3"/>
<polygon fill="#6f3d12" points="483.8,506.7 485.6,506.1 485.6,694.2 483.8,694.8"/>
<polygon fill="#8f5e30" opacity="0.6" points="482.6,507.1 483.8,506.7 483.8,694.8 482.6,695.2"/>
<polygon fill="#6f3d12" points="490.5,504.5 492.3,504.0 492.3,692.1 490.5,692.6"/>
<polygon fill="#8f5e30" opacity="0.6" points="489.3,504.9 490.5,504.5 490.5,692.6 489.3,693.0"/>
<polygon fill="#6f3d12" points="497.2,502.4 499.0,501.8 499.0,689.9 497.2,690.5"/>
<polygon fill="#8f5e30" opacity="0.6" points="496.0,502.8 497.2,502.4 497.2,690.5 496.0,690.9"/>
<polygon fill="#b3844f" points="414,503.6 456,490.7 505.3,499.7 465.5,512.6"/>
<line x1="421.0" y1="501.5" x2="472.1" y2="510.5" stroke="#6f3d12" stroke-width="1.6"/>
<line x1="428.0" y1="499.3" x2="478.8" y2="508.3" stroke="#6f3d12" stroke-width="1.6"/>
<line x1="435.0" y1="497.1" x2="485.4" y2="506.1" stroke="#6f3d12" stroke-width="1.6"/>
<line x1="442.0" y1="495.0" x2="492.0" y2="504.0" stroke="#6f3d12" stroke-width="1.6"/>
<line x1="449.0" y1="492.9" x2="498.7" y2="501.9" stroke="#6f3d12" stroke-width="1.6"/>
</g>
</svg>
</body></html>
